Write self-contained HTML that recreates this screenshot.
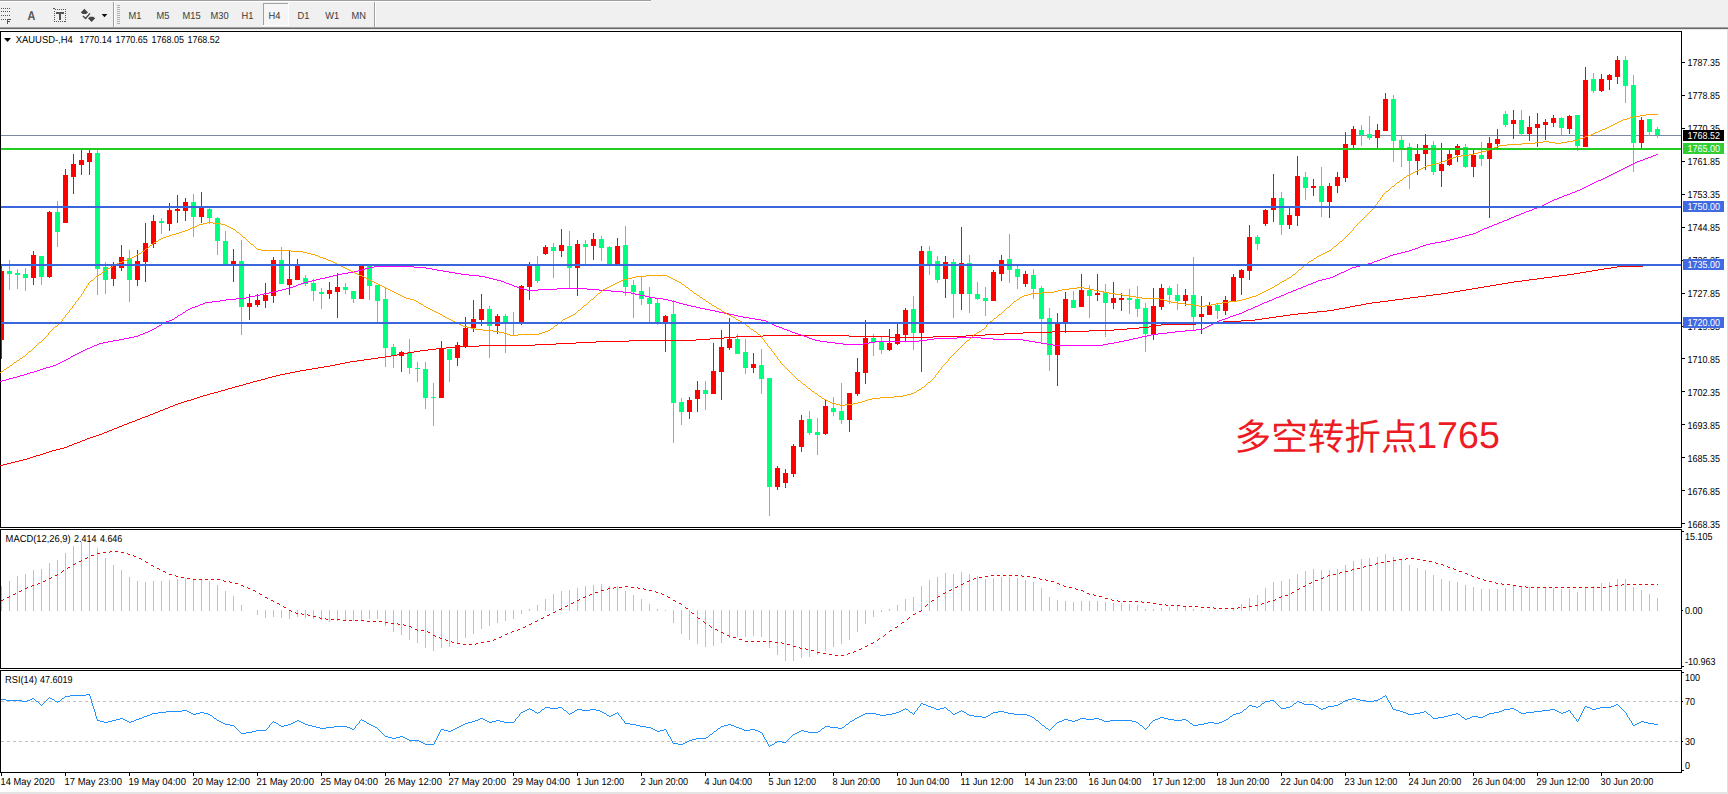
<!DOCTYPE html><html><head><meta charset="utf-8"><title>XAUUSD H4</title>
<style>html,body{margin:0;padding:0;background:#fff;width:1728px;height:794px;overflow:hidden}svg{display:block}text{font-family:"Liberation Sans","Noto Sans CJK SC",sans-serif;text-rendering:geometricPrecision;}</style></head><body>
<svg width="1728" height="794" viewBox="0 0 1728 794">
<rect x="0" y="0" width="1728" height="794" fill="#ffffff"/>
<g shape-rendering="crispEdges">
<rect x="0" y="0" width="1728" height="27" fill="#f0f0f0"/>
<rect x="0" y="0" width="651" height="1" fill="#a0a0a0"/>
<rect x="0" y="1" width="651" height="1" fill="#ffffff"/>
<rect x="0" y="27" width="1728" height="1" fill="#a0a0a0"/>
<rect x="0" y="28" width="1728" height="1" fill="#6a6a6a"/>
<rect x="0" y="29" width="1728" height="1" fill="#e8e8e8"/>
<rect x="113" y="2" width="1" height="25" fill="#a0a0a0"/><rect x="114" y="2" width="1" height="25" fill="#ffffff"/>
<rect x="374" y="2" width="1" height="25" fill="#a0a0a0"/><rect x="375" y="2" width="1" height="25" fill="#ffffff"/>
<rect x="117" y="5" width="3" height="1" fill="#b0b0b0"/>
<rect x="117" y="7" width="3" height="1" fill="#b0b0b0"/>
<rect x="117" y="9" width="3" height="1" fill="#b0b0b0"/>
<rect x="117" y="11" width="3" height="1" fill="#b0b0b0"/>
<rect x="117" y="13" width="3" height="1" fill="#b0b0b0"/>
<rect x="117" y="15" width="3" height="1" fill="#b0b0b0"/>
<rect x="117" y="17" width="3" height="1" fill="#b0b0b0"/>
<rect x="117" y="19" width="3" height="1" fill="#b0b0b0"/>
<rect x="117" y="21" width="3" height="1" fill="#b0b0b0"/>
<rect x="117" y="23" width="3" height="1" fill="#b0b0b0"/>
<rect x="263" y="3" width="26" height="23" fill="#f6f6f6"/>
<rect x="263" y="3" width="26" height="1" fill="#a0a0a0"/><rect x="263" y="3" width="1" height="23" fill="#a0a0a0"/>
<rect x="263" y="25" width="26" height="1" fill="#ffffff"/><rect x="288" y="3" width="1" height="23" fill="#ffffff"/>
</g>
<text transform="translate(128.5,19.2) scale(0.921,1)" style="font-size:10.1px;fill:#3a3a3a">M1</text>
<text transform="translate(156.5,19.2) scale(0.921,1)" style="font-size:10.1px;fill:#3a3a3a">M5</text>
<text transform="translate(182.5,19.2) scale(0.921,1)" style="font-size:10.1px;fill:#3a3a3a">M15</text>
<text transform="translate(210.5,19.2) scale(0.921,1)" style="font-size:10.1px;fill:#3a3a3a">M30</text>
<text transform="translate(241.5,19.2) scale(0.921,1)" style="font-size:10.1px;fill:#3a3a3a">H1</text>
<text transform="translate(268.5,19.2) scale(0.921,1)" style="font-size:10.1px;fill:#3a3a3a">H4</text>
<text transform="translate(297.5,19.2) scale(0.921,1)" style="font-size:10.1px;fill:#3a3a3a">D1</text>
<text transform="translate(325.3,19.2) scale(0.921,1)" style="font-size:10.1px;fill:#3a3a3a">W1</text>
<text transform="translate(351.5,19.2) scale(0.921,1)" style="font-size:10.1px;fill:#3a3a3a">MN</text>
<g shape-rendering="crispEdges" fill="#555">
<rect x="1" y="8" width="1" height="1"/>
<rect x="3" y="8" width="1" height="1"/>
<rect x="5" y="8" width="1" height="1"/>
<rect x="7" y="8" width="1" height="1"/>
<rect x="9" y="8" width="1" height="1"/>
<rect x="1" y="11" width="1" height="1"/>
<rect x="3" y="11" width="1" height="1"/>
<rect x="5" y="11" width="1" height="1"/>
<rect x="7" y="11" width="1" height="1"/>
<rect x="9" y="11" width="1" height="1"/>
<rect x="1" y="15" width="1" height="1"/>
<rect x="3" y="15" width="1" height="1"/>
<rect x="5" y="15" width="1" height="1"/>
<rect x="7" y="15" width="1" height="1"/>
<rect x="9" y="15" width="1" height="1"/>
<rect x="1" y="19" width="1" height="1"/>
<rect x="3" y="19" width="1" height="1"/>
<rect x="5" y="19" width="1" height="1"/>
<rect x="7" y="19" width="1" height="5"/><rect x="8" y="19" width="3" height="1"/><rect x="8" y="21" width="2" height="1"/>
</g>
<text transform="translate(27.5,20) scale(0.86,1)" x="0" y="0" style="font-size:12.6px;font-weight:bold;fill:#555">A</text>
<rect x="54.5" y="9.5" width="11" height="12" fill="none" stroke="#555" stroke-width="1" stroke-dasharray="1,1" shape-rendering="crispEdges"/>
<rect x="53" y="8" width="2" height="1" fill="#555" shape-rendering="crispEdges"/>
<g shape-rendering="crispEdges" fill="#555"><rect x="56" y="12" width="8" height="2"/><rect x="59" y="12" width="2" height="8"/></g>
<path d="M84.4 8.8 L88 12.6 L86 14 L82.8 14 L80.8 12.6 Z M91.6 22 L88 18.2 L90 16.8 L93.2 16.8 L95.2 18.2 Z" fill="#444"/><path d="M83 16 L85.6 18.4 L90 13.4" stroke="#444" stroke-width="1.4" fill="none"/>
<path d="M101.6 14 h5.8 l-2.9 3.3 z" fill="#111"/>
<g shape-rendering="crispEdges" fill="#000">
<rect x="0" y="31" width="1682" height="1"/>
<rect x="0" y="31" width="1" height="742"/>
<rect x="1681" y="31" width="1" height="742"/>
<rect x="0" y="527" width="1682" height="1"/>
<rect x="0" y="529" width="1682" height="1"/>
<rect x="0" y="668" width="1682" height="1"/>
<rect x="0" y="670" width="1682" height="1"/>
<rect x="0" y="772" width="1682" height="1"/>
</g>
<g shape-rendering="crispEdges" fill="#fff"><rect x="0" y="528" width="1728" height="1"/><rect x="0" y="669" width="1728" height="1"/></g>
<g shape-rendering="crispEdges"><rect x="1727" y="29" width="1" height="765" fill="#e0e0e0"/><rect x="0" y="792" width="1728" height="2" fill="#e4e4e4"/></g>
<g shape-rendering="crispEdges" fill="#000">
<rect x="1682" y="62" width="3" height="1"/>
<rect x="1682" y="95" width="3" height="1"/>
<rect x="1682" y="128" width="3" height="1"/>
<rect x="1682" y="161" width="3" height="1"/>
<rect x="1682" y="194" width="3" height="1"/>
<rect x="1682" y="227" width="3" height="1"/>
<rect x="1682" y="260" width="3" height="1"/>
<rect x="1682" y="293" width="3" height="1"/>
<rect x="1682" y="326" width="3" height="1"/>
<rect x="1682" y="358" width="3" height="1"/>
<rect x="1682" y="391" width="3" height="1"/>
<rect x="1682" y="424" width="3" height="1"/>
<rect x="1682" y="457" width="3" height="1"/>
<rect x="1682" y="490" width="3" height="1"/>
<rect x="1682" y="523" width="3" height="1"/>
</g>
<text transform="translate(1687.5,66.0) scale(0.889,1)" style="font-size:10.1px;fill:#000">1787.35</text>
<text transform="translate(1687.5,99.0) scale(0.889,1)" style="font-size:10.1px;fill:#000">1778.85</text>
<text transform="translate(1687.5,131.9) scale(0.889,1)" style="font-size:10.1px;fill:#000">1770.35</text>
<text transform="translate(1687.5,164.9) scale(0.889,1)" style="font-size:10.1px;fill:#000">1761.85</text>
<text transform="translate(1687.5,197.9) scale(0.889,1)" style="font-size:10.1px;fill:#000">1753.35</text>
<text transform="translate(1687.5,230.8) scale(0.889,1)" style="font-size:10.1px;fill:#000">1744.85</text>
<text transform="translate(1687.5,263.8) scale(0.889,1)" style="font-size:10.1px;fill:#000">1736.35</text>
<text transform="translate(1687.5,296.7) scale(0.889,1)" style="font-size:10.1px;fill:#000">1727.85</text>
<text transform="translate(1687.5,329.7) scale(0.889,1)" style="font-size:10.1px;fill:#000">1719.35</text>
<text transform="translate(1687.5,362.7) scale(0.889,1)" style="font-size:10.1px;fill:#000">1710.85</text>
<text transform="translate(1687.5,395.6) scale(0.889,1)" style="font-size:10.1px;fill:#000">1702.35</text>
<text transform="translate(1687.5,428.6) scale(0.889,1)" style="font-size:10.1px;fill:#000">1693.85</text>
<text transform="translate(1687.5,461.6) scale(0.889,1)" style="font-size:10.1px;fill:#000">1685.35</text>
<text transform="translate(1687.5,494.5) scale(0.889,1)" style="font-size:10.1px;fill:#000">1676.85</text>
<text transform="translate(1687.5,527.5) scale(0.889,1)" style="font-size:10.1px;fill:#000">1668.35</text>
<g shape-rendering="crispEdges">
<rect x="1" y="135" width="1680" height="1" fill="#7b8aa0"/>
</g>
<g shape-rendering="crispEdges">
<rect x="1" y="265" width="1" height="94" fill="#FF0000"/>
<rect x="1" y="271" width="3" height="69" fill="#FF0000"/>
<rect x="9" y="260" width="1" height="30" fill="#00FF7F"/>
<rect x="7" y="271" width="5" height="3" fill="#00FF7F"/>
<rect x="17" y="269" width="1" height="20" fill="#00FF7F"/>
<rect x="15" y="273" width="5" height="2" fill="#00FF7F"/>
<rect x="25" y="268" width="1" height="23" fill="#00FF7F"/>
<rect x="23" y="274" width="5" height="4" fill="#00FF7F"/>
<rect x="33" y="251" width="1" height="34" fill="#FF0000"/>
<rect x="31" y="255" width="5" height="23" fill="#FF0000"/>
<rect x="41" y="256" width="1" height="29" fill="#00FF7F"/>
<rect x="39" y="256" width="5" height="21" fill="#00FF7F"/>
<rect x="49" y="211" width="1" height="67" fill="#FF0000"/>
<rect x="47" y="212" width="5" height="65" fill="#FF0000"/>
<rect x="57" y="201" width="1" height="46" fill="#00FF7F"/>
<rect x="55" y="212" width="5" height="20" fill="#00FF7F"/>
<rect x="65" y="169" width="1" height="54" fill="#FF0000"/>
<rect x="63" y="175" width="5" height="48" fill="#FF0000"/>
<rect x="73" y="154" width="1" height="40" fill="#FF0000"/>
<rect x="71" y="164" width="5" height="13" fill="#FF0000"/>
<rect x="81" y="149" width="1" height="26" fill="#FF0000"/>
<rect x="79" y="160" width="5" height="5" fill="#FF0000"/>
<rect x="89" y="149" width="1" height="26" fill="#FF0000"/>
<rect x="87" y="153" width="5" height="9" fill="#FF0000"/>
<rect x="97" y="150" width="1" height="145" fill="#00FF7F"/>
<rect x="95" y="153" width="5" height="116" fill="#00FF7F"/>
<rect x="105" y="262" width="1" height="32" fill="#00FF7F"/>
<rect x="103" y="267" width="5" height="13" fill="#00FF7F"/>
<rect x="113" y="262" width="1" height="24" fill="#FF0000"/>
<rect x="111" y="266" width="5" height="13" fill="#FF0000"/>
<rect x="121" y="245" width="1" height="26" fill="#FF0000"/>
<rect x="119" y="257" width="5" height="11" fill="#FF0000"/>
<rect x="129" y="250" width="1" height="52" fill="#00FF7F"/>
<rect x="127" y="258" width="5" height="22" fill="#00FF7F"/>
<rect x="137" y="250" width="1" height="36" fill="#FF0000"/>
<rect x="135" y="261" width="5" height="19" fill="#FF0000"/>
<rect x="145" y="223" width="1" height="59" fill="#FF0000"/>
<rect x="143" y="243" width="5" height="19" fill="#FF0000"/>
<rect x="153" y="215" width="1" height="33" fill="#FF0000"/>
<rect x="151" y="221" width="5" height="23" fill="#FF0000"/>
<rect x="161" y="218" width="1" height="16" fill="#00FF7F"/>
<rect x="159" y="221" width="5" height="2" fill="#00FF7F"/>
<rect x="169" y="203" width="1" height="28" fill="#FF0000"/>
<rect x="167" y="210" width="5" height="14" fill="#FF0000"/>
<rect x="177" y="195" width="1" height="28" fill="#FF0000"/>
<rect x="175" y="209" width="5" height="2" fill="#FF0000"/>
<rect x="185" y="198" width="1" height="23" fill="#FF0000"/>
<rect x="183" y="202" width="5" height="9" fill="#FF0000"/>
<rect x="193" y="194" width="1" height="43" fill="#00FF7F"/>
<rect x="191" y="202" width="5" height="15" fill="#00FF7F"/>
<rect x="201" y="192" width="1" height="31" fill="#FF0000"/>
<rect x="199" y="208" width="5" height="9" fill="#FF0000"/>
<rect x="209" y="208" width="1" height="16" fill="#00FF7F"/>
<rect x="207" y="209" width="5" height="9" fill="#00FF7F"/>
<rect x="217" y="217" width="1" height="38" fill="#00FF7F"/>
<rect x="215" y="218" width="5" height="23" fill="#00FF7F"/>
<rect x="225" y="231" width="1" height="33" fill="#00FF7F"/>
<rect x="223" y="241" width="5" height="23" fill="#00FF7F"/>
<rect x="233" y="249" width="1" height="33" fill="#FF0000"/>
<rect x="231" y="261" width="5" height="3" fill="#FF0000"/>
<rect x="241" y="240" width="1" height="95" fill="#00FF7F"/>
<rect x="239" y="261" width="5" height="46" fill="#00FF7F"/>
<rect x="249" y="294" width="1" height="26" fill="#FF0000"/>
<rect x="247" y="303" width="5" height="4" fill="#FF0000"/>
<rect x="257" y="294" width="1" height="13" fill="#FF0000"/>
<rect x="255" y="300" width="5" height="5" fill="#FF0000"/>
<rect x="265" y="283" width="1" height="25" fill="#FF0000"/>
<rect x="263" y="295" width="5" height="6" fill="#FF0000"/>
<rect x="273" y="257" width="1" height="46" fill="#FF0000"/>
<rect x="271" y="260" width="5" height="36" fill="#FF0000"/>
<rect x="281" y="247" width="1" height="37" fill="#00FF7F"/>
<rect x="279" y="260" width="5" height="24" fill="#00FF7F"/>
<rect x="289" y="251" width="1" height="44" fill="#FF0000"/>
<rect x="287" y="279" width="5" height="6" fill="#FF0000"/>
<rect x="297" y="259" width="1" height="21" fill="#FF0000"/>
<rect x="295" y="266" width="5" height="14" fill="#FF0000"/>
<rect x="305" y="275" width="1" height="11" fill="#00FF7F"/>
<rect x="303" y="278" width="5" height="6" fill="#00FF7F"/>
<rect x="313" y="279" width="1" height="22" fill="#00FF7F"/>
<rect x="311" y="283" width="5" height="8" fill="#00FF7F"/>
<rect x="321" y="288" width="1" height="21" fill="#00FF7F"/>
<rect x="319" y="292" width="5" height="2" fill="#00FF7F"/>
<rect x="329" y="282" width="1" height="17" fill="#FF0000"/>
<rect x="327" y="290" width="5" height="4" fill="#FF0000"/>
<rect x="337" y="273" width="1" height="45" fill="#FF0000"/>
<rect x="335" y="287" width="5" height="5" fill="#FF0000"/>
<rect x="345" y="283" width="1" height="11" fill="#00FF7F"/>
<rect x="343" y="287" width="5" height="3" fill="#00FF7F"/>
<rect x="353" y="291" width="1" height="12" fill="#00FF7F"/>
<rect x="351" y="291" width="5" height="8" fill="#00FF7F"/>
<rect x="361" y="264" width="1" height="35" fill="#FF0000"/>
<rect x="359" y="265" width="5" height="34" fill="#FF0000"/>
<rect x="369" y="265" width="1" height="35" fill="#00FF7F"/>
<rect x="367" y="266" width="5" height="20" fill="#00FF7F"/>
<rect x="377" y="285" width="1" height="37" fill="#00FF7F"/>
<rect x="375" y="285" width="5" height="16" fill="#00FF7F"/>
<rect x="385" y="288" width="1" height="79" fill="#00FF7F"/>
<rect x="383" y="299" width="5" height="49" fill="#00FF7F"/>
<rect x="393" y="344" width="1" height="24" fill="#00FF7F"/>
<rect x="391" y="347" width="5" height="9" fill="#00FF7F"/>
<rect x="401" y="351" width="1" height="21" fill="#FF0000"/>
<rect x="399" y="352" width="5" height="4" fill="#FF0000"/>
<rect x="409" y="339" width="1" height="35" fill="#00FF7F"/>
<rect x="407" y="352" width="5" height="16" fill="#00FF7F"/>
<rect x="417" y="362" width="1" height="20" fill="#00FF7F"/>
<rect x="415" y="368" width="5" height="1" fill="#00FF7F"/>
<rect x="425" y="362" width="1" height="47" fill="#00FF7F"/>
<rect x="423" y="369" width="5" height="29" fill="#00FF7F"/>
<rect x="433" y="383" width="1" height="43" fill="#00FF7F"/>
<rect x="431" y="397" width="5" height="1" fill="#00FF7F"/>
<rect x="441" y="341" width="1" height="57" fill="#FF0000"/>
<rect x="439" y="348" width="5" height="50" fill="#FF0000"/>
<rect x="449" y="349" width="1" height="33" fill="#00FF7F"/>
<rect x="447" y="349" width="5" height="11" fill="#00FF7F"/>
<rect x="457" y="342" width="1" height="24" fill="#FF0000"/>
<rect x="455" y="345" width="5" height="13" fill="#FF0000"/>
<rect x="465" y="317" width="1" height="31" fill="#FF0000"/>
<rect x="463" y="328" width="5" height="18" fill="#FF0000"/>
<rect x="473" y="300" width="1" height="32" fill="#FF0000"/>
<rect x="471" y="319" width="5" height="9" fill="#FF0000"/>
<rect x="481" y="294" width="1" height="32" fill="#FF0000"/>
<rect x="479" y="309" width="5" height="11" fill="#FF0000"/>
<rect x="489" y="306" width="1" height="52" fill="#00FF7F"/>
<rect x="487" y="309" width="5" height="17" fill="#00FF7F"/>
<rect x="497" y="314" width="1" height="20" fill="#FF0000"/>
<rect x="495" y="316" width="5" height="10" fill="#FF0000"/>
<rect x="505" y="314" width="1" height="39" fill="#00FF7F"/>
<rect x="503" y="316" width="5" height="6" fill="#00FF7F"/>
<rect x="513" y="312" width="1" height="23" fill="#00FF7F"/>
<rect x="511" y="322" width="5" height="1" fill="#00FF7F"/>
<rect x="521" y="285" width="1" height="40" fill="#FF0000"/>
<rect x="519" y="286" width="5" height="36" fill="#FF0000"/>
<rect x="529" y="262" width="1" height="38" fill="#FF0000"/>
<rect x="527" y="265" width="5" height="22" fill="#FF0000"/>
<rect x="537" y="256" width="1" height="27" fill="#00FF7F"/>
<rect x="535" y="266" width="5" height="15" fill="#00FF7F"/>
<rect x="545" y="245" width="1" height="10" fill="#FF0000"/>
<rect x="543" y="247" width="5" height="7" fill="#FF0000"/>
<rect x="553" y="243" width="1" height="35" fill="#00FF7F"/>
<rect x="551" y="247" width="5" height="4" fill="#00FF7F"/>
<rect x="561" y="229" width="1" height="28" fill="#FF0000"/>
<rect x="559" y="245" width="5" height="6" fill="#FF0000"/>
<rect x="569" y="231" width="1" height="57" fill="#00FF7F"/>
<rect x="567" y="246" width="5" height="22" fill="#00FF7F"/>
<rect x="577" y="240" width="1" height="56" fill="#FF0000"/>
<rect x="575" y="244" width="5" height="24" fill="#FF0000"/>
<rect x="585" y="240" width="1" height="26" fill="#00FF7F"/>
<rect x="583" y="244" width="5" height="3" fill="#00FF7F"/>
<rect x="593" y="233" width="1" height="27" fill="#FF0000"/>
<rect x="591" y="239" width="5" height="7" fill="#FF0000"/>
<rect x="601" y="236" width="1" height="25" fill="#00FF7F"/>
<rect x="599" y="239" width="5" height="9" fill="#00FF7F"/>
<rect x="609" y="246" width="1" height="20" fill="#00FF7F"/>
<rect x="607" y="247" width="5" height="17" fill="#00FF7F"/>
<rect x="617" y="238" width="1" height="26" fill="#FF0000"/>
<rect x="615" y="246" width="5" height="18" fill="#FF0000"/>
<rect x="625" y="226" width="1" height="70" fill="#00FF7F"/>
<rect x="623" y="245" width="5" height="42" fill="#00FF7F"/>
<rect x="633" y="280" width="1" height="38" fill="#00FF7F"/>
<rect x="631" y="285" width="5" height="7" fill="#00FF7F"/>
<rect x="641" y="276" width="1" height="29" fill="#00FF7F"/>
<rect x="639" y="291" width="5" height="8" fill="#00FF7F"/>
<rect x="649" y="287" width="1" height="35" fill="#00FF7F"/>
<rect x="647" y="298" width="5" height="6" fill="#00FF7F"/>
<rect x="657" y="299" width="1" height="26" fill="#00FF7F"/>
<rect x="655" y="303" width="5" height="19" fill="#00FF7F"/>
<rect x="665" y="315" width="1" height="37" fill="#FF0000"/>
<rect x="663" y="316" width="5" height="6" fill="#FF0000"/>
<rect x="673" y="300" width="1" height="143" fill="#00FF7F"/>
<rect x="671" y="314" width="5" height="89" fill="#00FF7F"/>
<rect x="681" y="398" width="1" height="27" fill="#00FF7F"/>
<rect x="679" y="402" width="5" height="10" fill="#00FF7F"/>
<rect x="689" y="397" width="1" height="22" fill="#FF0000"/>
<rect x="687" y="400" width="5" height="12" fill="#FF0000"/>
<rect x="697" y="381" width="1" height="31" fill="#FF0000"/>
<rect x="695" y="390" width="5" height="9" fill="#FF0000"/>
<rect x="705" y="381" width="1" height="29" fill="#00FF7F"/>
<rect x="703" y="390" width="5" height="4" fill="#00FF7F"/>
<rect x="713" y="343" width="1" height="51" fill="#FF0000"/>
<rect x="711" y="371" width="5" height="23" fill="#FF0000"/>
<rect x="721" y="330" width="1" height="70" fill="#FF0000"/>
<rect x="719" y="347" width="5" height="25" fill="#FF0000"/>
<rect x="729" y="318" width="1" height="32" fill="#FF0000"/>
<rect x="727" y="339" width="5" height="9" fill="#FF0000"/>
<rect x="737" y="334" width="1" height="20" fill="#00FF7F"/>
<rect x="735" y="339" width="5" height="15" fill="#00FF7F"/>
<rect x="745" y="339" width="1" height="35" fill="#00FF7F"/>
<rect x="743" y="352" width="5" height="16" fill="#00FF7F"/>
<rect x="753" y="353" width="1" height="20" fill="#FF0000"/>
<rect x="751" y="364" width="5" height="4" fill="#FF0000"/>
<rect x="761" y="349" width="1" height="45" fill="#00FF7F"/>
<rect x="759" y="365" width="5" height="14" fill="#00FF7F"/>
<rect x="769" y="378" width="1" height="138" fill="#00FF7F"/>
<rect x="767" y="378" width="5" height="109" fill="#00FF7F"/>
<rect x="777" y="466" width="1" height="24" fill="#FF0000"/>
<rect x="775" y="468" width="5" height="19" fill="#FF0000"/>
<rect x="785" y="469" width="1" height="19" fill="#FF0000"/>
<rect x="783" y="473" width="5" height="10" fill="#FF0000"/>
<rect x="793" y="444" width="1" height="33" fill="#FF0000"/>
<rect x="791" y="446" width="5" height="28" fill="#FF0000"/>
<rect x="801" y="415" width="1" height="37" fill="#FF0000"/>
<rect x="799" y="420" width="5" height="27" fill="#FF0000"/>
<rect x="809" y="411" width="1" height="24" fill="#00FF7F"/>
<rect x="807" y="419" width="5" height="14" fill="#00FF7F"/>
<rect x="817" y="418" width="1" height="37" fill="#00FF7F"/>
<rect x="815" y="432" width="5" height="3" fill="#00FF7F"/>
<rect x="825" y="399" width="1" height="36" fill="#FF0000"/>
<rect x="823" y="406" width="5" height="28" fill="#FF0000"/>
<rect x="833" y="397" width="1" height="19" fill="#00FF7F"/>
<rect x="831" y="408" width="5" height="4" fill="#00FF7F"/>
<rect x="841" y="383" width="1" height="41" fill="#00FF7F"/>
<rect x="839" y="411" width="5" height="9" fill="#00FF7F"/>
<rect x="849" y="393" width="1" height="39" fill="#FF0000"/>
<rect x="847" y="393" width="5" height="27" fill="#FF0000"/>
<rect x="857" y="358" width="1" height="38" fill="#FF0000"/>
<rect x="855" y="372" width="5" height="22" fill="#FF0000"/>
<rect x="865" y="320" width="1" height="64" fill="#FF0000"/>
<rect x="863" y="338" width="5" height="35" fill="#FF0000"/>
<rect x="873" y="334" width="1" height="22" fill="#00FF7F"/>
<rect x="871" y="338" width="5" height="4" fill="#00FF7F"/>
<rect x="881" y="336" width="1" height="18" fill="#00FF7F"/>
<rect x="879" y="342" width="5" height="8" fill="#00FF7F"/>
<rect x="889" y="329" width="1" height="22" fill="#FF0000"/>
<rect x="887" y="343" width="5" height="7" fill="#FF0000"/>
<rect x="897" y="324" width="1" height="21" fill="#FF0000"/>
<rect x="895" y="334" width="5" height="10" fill="#FF0000"/>
<rect x="905" y="308" width="1" height="33" fill="#FF0000"/>
<rect x="903" y="310" width="5" height="25" fill="#FF0000"/>
<rect x="913" y="296" width="1" height="54" fill="#00FF7F"/>
<rect x="911" y="309" width="5" height="24" fill="#00FF7F"/>
<rect x="921" y="246" width="1" height="126" fill="#FF0000"/>
<rect x="919" y="251" width="5" height="82" fill="#FF0000"/>
<rect x="929" y="246" width="1" height="29" fill="#00FF7F"/>
<rect x="927" y="251" width="5" height="13" fill="#00FF7F"/>
<rect x="937" y="256" width="1" height="27" fill="#00FF7F"/>
<rect x="935" y="261" width="5" height="19" fill="#00FF7F"/>
<rect x="945" y="256" width="1" height="42" fill="#FF0000"/>
<rect x="943" y="262" width="5" height="17" fill="#FF0000"/>
<rect x="953" y="259" width="1" height="59" fill="#00FF7F"/>
<rect x="951" y="262" width="5" height="32" fill="#00FF7F"/>
<rect x="961" y="227" width="1" height="83" fill="#FF0000"/>
<rect x="959" y="263" width="5" height="31" fill="#FF0000"/>
<rect x="969" y="255" width="1" height="58" fill="#00FF7F"/>
<rect x="967" y="263" width="5" height="31" fill="#00FF7F"/>
<rect x="977" y="282" width="1" height="18" fill="#00FF7F"/>
<rect x="975" y="294" width="5" height="5" fill="#00FF7F"/>
<rect x="985" y="287" width="1" height="29" fill="#00FF7F"/>
<rect x="983" y="298" width="5" height="3" fill="#00FF7F"/>
<rect x="993" y="270" width="1" height="31" fill="#FF0000"/>
<rect x="991" y="272" width="5" height="29" fill="#FF0000"/>
<rect x="1001" y="255" width="1" height="26" fill="#FF0000"/>
<rect x="999" y="260" width="5" height="14" fill="#FF0000"/>
<rect x="1009" y="234" width="1" height="49" fill="#00FF7F"/>
<rect x="1007" y="259" width="5" height="11" fill="#00FF7F"/>
<rect x="1017" y="266" width="1" height="23" fill="#00FF7F"/>
<rect x="1015" y="269" width="5" height="8" fill="#00FF7F"/>
<rect x="1025" y="271" width="1" height="16" fill="#FF0000"/>
<rect x="1023" y="274" width="5" height="10" fill="#FF0000"/>
<rect x="1033" y="269" width="1" height="30" fill="#00FF7F"/>
<rect x="1031" y="275" width="5" height="14" fill="#00FF7F"/>
<rect x="1041" y="286" width="1" height="56" fill="#00FF7F"/>
<rect x="1039" y="288" width="5" height="31" fill="#00FF7F"/>
<rect x="1049" y="308" width="1" height="63" fill="#00FF7F"/>
<rect x="1047" y="318" width="5" height="37" fill="#00FF7F"/>
<rect x="1057" y="313" width="1" height="73" fill="#FF0000"/>
<rect x="1055" y="323" width="5" height="32" fill="#FF0000"/>
<rect x="1065" y="292" width="1" height="41" fill="#FF0000"/>
<rect x="1063" y="299" width="5" height="23" fill="#FF0000"/>
<rect x="1073" y="291" width="1" height="17" fill="#00FF7F"/>
<rect x="1071" y="300" width="5" height="8" fill="#00FF7F"/>
<rect x="1081" y="274" width="1" height="33" fill="#FF0000"/>
<rect x="1079" y="290" width="5" height="17" fill="#FF0000"/>
<rect x="1089" y="285" width="1" height="33" fill="#00FF7F"/>
<rect x="1087" y="290" width="5" height="6" fill="#00FF7F"/>
<rect x="1097" y="274" width="1" height="27" fill="#FF0000"/>
<rect x="1095" y="293" width="5" height="2" fill="#FF0000"/>
<rect x="1105" y="284" width="1" height="53" fill="#00FF7F"/>
<rect x="1103" y="292" width="5" height="11" fill="#00FF7F"/>
<rect x="1113" y="282" width="1" height="27" fill="#FF0000"/>
<rect x="1111" y="298" width="5" height="5" fill="#FF0000"/>
<rect x="1121" y="293" width="1" height="18" fill="#FF0000"/>
<rect x="1119" y="298" width="5" height="2" fill="#FF0000"/>
<rect x="1129" y="289" width="1" height="25" fill="#00FF7F"/>
<rect x="1127" y="298" width="5" height="2" fill="#00FF7F"/>
<rect x="1137" y="286" width="1" height="31" fill="#00FF7F"/>
<rect x="1135" y="299" width="5" height="10" fill="#00FF7F"/>
<rect x="1145" y="303" width="1" height="49" fill="#00FF7F"/>
<rect x="1143" y="308" width="5" height="26" fill="#00FF7F"/>
<rect x="1153" y="288" width="1" height="52" fill="#FF0000"/>
<rect x="1151" y="306" width="5" height="28" fill="#FF0000"/>
<rect x="1161" y="284" width="1" height="26" fill="#FF0000"/>
<rect x="1159" y="288" width="5" height="19" fill="#FF0000"/>
<rect x="1169" y="286" width="1" height="18" fill="#00FF7F"/>
<rect x="1167" y="288" width="5" height="7" fill="#00FF7F"/>
<rect x="1177" y="284" width="1" height="26" fill="#00FF7F"/>
<rect x="1175" y="295" width="5" height="6" fill="#00FF7F"/>
<rect x="1185" y="289" width="1" height="17" fill="#FF0000"/>
<rect x="1183" y="295" width="5" height="6" fill="#FF0000"/>
<rect x="1193" y="257" width="1" height="73" fill="#00FF7F"/>
<rect x="1191" y="295" width="5" height="22" fill="#00FF7F"/>
<rect x="1201" y="296" width="1" height="38" fill="#FF0000"/>
<rect x="1199" y="314" width="5" height="3" fill="#FF0000"/>
<rect x="1209" y="302" width="1" height="13" fill="#FF0000"/>
<rect x="1207" y="306" width="5" height="9" fill="#FF0000"/>
<rect x="1217" y="304" width="1" height="15" fill="#00FF7F"/>
<rect x="1215" y="305" width="5" height="6" fill="#00FF7F"/>
<rect x="1225" y="296" width="1" height="19" fill="#FF0000"/>
<rect x="1223" y="300" width="5" height="11" fill="#FF0000"/>
<rect x="1233" y="274" width="1" height="28" fill="#FF0000"/>
<rect x="1231" y="277" width="5" height="25" fill="#FF0000"/>
<rect x="1241" y="269" width="1" height="26" fill="#FF0000"/>
<rect x="1239" y="270" width="5" height="8" fill="#FF0000"/>
<rect x="1249" y="225" width="1" height="55" fill="#FF0000"/>
<rect x="1247" y="237" width="5" height="34" fill="#FF0000"/>
<rect x="1257" y="235" width="1" height="15" fill="#00FF7F"/>
<rect x="1255" y="237" width="5" height="7" fill="#00FF7F"/>
<rect x="1265" y="209" width="1" height="17" fill="#FF0000"/>
<rect x="1263" y="210" width="5" height="14" fill="#FF0000"/>
<rect x="1273" y="174" width="1" height="48" fill="#FF0000"/>
<rect x="1271" y="198" width="5" height="12" fill="#FF0000"/>
<rect x="1281" y="192" width="1" height="43" fill="#00FF7F"/>
<rect x="1279" y="198" width="5" height="27" fill="#00FF7F"/>
<rect x="1289" y="208" width="1" height="21" fill="#FF0000"/>
<rect x="1287" y="215" width="5" height="10" fill="#FF0000"/>
<rect x="1297" y="156" width="1" height="70" fill="#FF0000"/>
<rect x="1295" y="176" width="5" height="40" fill="#FF0000"/>
<rect x="1305" y="172" width="1" height="28" fill="#00FF7F"/>
<rect x="1303" y="177" width="5" height="11" fill="#00FF7F"/>
<rect x="1313" y="179" width="1" height="17" fill="#FF0000"/>
<rect x="1311" y="186" width="5" height="2" fill="#FF0000"/>
<rect x="1321" y="167" width="1" height="50" fill="#00FF7F"/>
<rect x="1319" y="186" width="5" height="16" fill="#00FF7F"/>
<rect x="1329" y="183" width="1" height="35" fill="#FF0000"/>
<rect x="1327" y="186" width="5" height="16" fill="#FF0000"/>
<rect x="1337" y="172" width="1" height="21" fill="#FF0000"/>
<rect x="1335" y="177" width="5" height="9" fill="#FF0000"/>
<rect x="1345" y="132" width="1" height="50" fill="#FF0000"/>
<rect x="1343" y="144" width="5" height="34" fill="#FF0000"/>
<rect x="1353" y="126" width="1" height="22" fill="#FF0000"/>
<rect x="1351" y="129" width="5" height="16" fill="#FF0000"/>
<rect x="1361" y="125" width="1" height="21" fill="#00FF7F"/>
<rect x="1359" y="130" width="5" height="5" fill="#00FF7F"/>
<rect x="1369" y="116" width="1" height="24" fill="#00FF7F"/>
<rect x="1367" y="134" width="5" height="4" fill="#00FF7F"/>
<rect x="1377" y="124" width="1" height="24" fill="#FF0000"/>
<rect x="1375" y="130" width="5" height="8" fill="#FF0000"/>
<rect x="1385" y="93" width="1" height="38" fill="#FF0000"/>
<rect x="1383" y="99" width="5" height="32" fill="#FF0000"/>
<rect x="1393" y="95" width="1" height="67" fill="#00FF7F"/>
<rect x="1391" y="99" width="5" height="42" fill="#00FF7F"/>
<rect x="1401" y="136" width="1" height="31" fill="#00FF7F"/>
<rect x="1399" y="140" width="5" height="8" fill="#00FF7F"/>
<rect x="1409" y="143" width="1" height="46" fill="#00FF7F"/>
<rect x="1407" y="147" width="5" height="14" fill="#00FF7F"/>
<rect x="1417" y="144" width="1" height="31" fill="#FF0000"/>
<rect x="1415" y="154" width="5" height="7" fill="#FF0000"/>
<rect x="1425" y="134" width="1" height="36" fill="#FF0000"/>
<rect x="1423" y="145" width="5" height="9" fill="#FF0000"/>
<rect x="1433" y="141" width="1" height="34" fill="#00FF7F"/>
<rect x="1431" y="145" width="5" height="27" fill="#00FF7F"/>
<rect x="1441" y="143" width="1" height="44" fill="#FF0000"/>
<rect x="1439" y="164" width="5" height="7" fill="#FF0000"/>
<rect x="1449" y="150" width="1" height="16" fill="#FF0000"/>
<rect x="1447" y="154" width="5" height="11" fill="#FF0000"/>
<rect x="1457" y="144" width="1" height="18" fill="#FF0000"/>
<rect x="1455" y="146" width="5" height="9" fill="#FF0000"/>
<rect x="1465" y="144" width="1" height="24" fill="#00FF7F"/>
<rect x="1463" y="147" width="5" height="20" fill="#00FF7F"/>
<rect x="1473" y="150" width="1" height="27" fill="#FF0000"/>
<rect x="1471" y="155" width="5" height="12" fill="#FF0000"/>
<rect x="1481" y="142" width="1" height="24" fill="#00FF7F"/>
<rect x="1479" y="155" width="5" height="4" fill="#00FF7F"/>
<rect x="1489" y="137" width="1" height="81" fill="#FF0000"/>
<rect x="1487" y="143" width="5" height="16" fill="#FF0000"/>
<rect x="1497" y="129" width="1" height="19" fill="#FF0000"/>
<rect x="1495" y="139" width="5" height="5" fill="#FF0000"/>
<rect x="1505" y="111" width="1" height="16" fill="#00FF7F"/>
<rect x="1503" y="114" width="5" height="11" fill="#00FF7F"/>
<rect x="1513" y="110" width="1" height="29" fill="#FF0000"/>
<rect x="1511" y="120" width="5" height="4" fill="#FF0000"/>
<rect x="1521" y="110" width="1" height="26" fill="#00FF7F"/>
<rect x="1519" y="120" width="5" height="14" fill="#00FF7F"/>
<rect x="1529" y="116" width="1" height="25" fill="#FF0000"/>
<rect x="1527" y="127" width="5" height="7" fill="#FF0000"/>
<rect x="1537" y="113" width="1" height="34" fill="#FF0000"/>
<rect x="1535" y="124" width="5" height="4" fill="#FF0000"/>
<rect x="1545" y="119" width="1" height="21" fill="#FF0000"/>
<rect x="1543" y="122" width="5" height="3" fill="#FF0000"/>
<rect x="1553" y="115" width="1" height="12" fill="#FF0000"/>
<rect x="1551" y="118" width="5" height="5" fill="#FF0000"/>
<rect x="1561" y="117" width="1" height="18" fill="#00FF7F"/>
<rect x="1559" y="118" width="5" height="10" fill="#00FF7F"/>
<rect x="1569" y="115" width="1" height="19" fill="#FF0000"/>
<rect x="1567" y="116" width="5" height="13" fill="#FF0000"/>
<rect x="1577" y="115" width="1" height="36" fill="#00FF7F"/>
<rect x="1575" y="115" width="5" height="31" fill="#00FF7F"/>
<rect x="1585" y="67" width="1" height="80" fill="#FF0000"/>
<rect x="1583" y="80" width="5" height="67" fill="#FF0000"/>
<rect x="1593" y="73" width="1" height="20" fill="#00FF7F"/>
<rect x="1591" y="79" width="5" height="12" fill="#00FF7F"/>
<rect x="1601" y="74" width="1" height="18" fill="#FF0000"/>
<rect x="1599" y="79" width="5" height="12" fill="#FF0000"/>
<rect x="1609" y="74" width="1" height="16" fill="#FF0000"/>
<rect x="1607" y="75" width="5" height="5" fill="#FF0000"/>
<rect x="1617" y="56" width="1" height="28" fill="#FF0000"/>
<rect x="1615" y="60" width="5" height="17" fill="#FF0000"/>
<rect x="1625" y="56" width="1" height="47" fill="#00FF7F"/>
<rect x="1623" y="60" width="5" height="26" fill="#00FF7F"/>
<rect x="1633" y="75" width="1" height="97" fill="#00FF7F"/>
<rect x="1631" y="85" width="5" height="58" fill="#00FF7F"/>
<rect x="1641" y="117" width="1" height="31" fill="#FF0000"/>
<rect x="1639" y="120" width="5" height="23" fill="#FF0000"/>
<rect x="1649" y="119" width="1" height="17" fill="#00FF7F"/>
<rect x="1647" y="119" width="5" height="13" fill="#00FF7F"/>
<rect x="1657" y="127" width="1" height="11" fill="#00FF7F"/>
<rect x="1655" y="129" width="5" height="6" fill="#00FF7F"/>
</g>
<path d="M1276 316.5h7M7 463.5h4M985 334.5h19M197 397.5h3M1496 284.5h6M261 379.5h4M629 340.5h67M1345 307.5h5M1223 321.5h18M1598 269.5h6M724 337.5h12M889 337.5h44M1161 324.5h35M391 355.5h6M1522 280.5h7M1372 302.5h8M1023 332.5h29M250 382.5h3M324 366.5h6M1298 313.5h10M459 346.5h20M184 401.5h3M736 336.5h27M849 336.5h40M933 336.5h33M763 335.5h86M966 335.5h19M1290 314.5h8M535 344.5h21M276 375.5h4M576 342.5h20M1441 293.5h7M479 345.5h56M112 429.5h2M414 351.5h6M596 341.5h33M300 370.5h6M80 441.5h2M1426 295.5h7M1617 266.5h26M265 378.5h3M170 406.5h3M107 431.5h2M408 352.5h6M1537 278.5h7M1380 301.5h8M228 388.5h4M428 349.5h8M64 447.5h3M312 368.5h6M350 361.5h7M239 385.5h4M1544 277.5h8M52 450.5h4M340 363.5h5M1466 289.5h6M1317 311.5h10M556 343.5h20M129 422.5h3M436 348.5h10M99 434.5h3M364 359.5h7M67 446.5h2M160 410.5h3M1139 327.5h10M1089 330.5h25M1559 275.5h8M1478 287.5h6M1210 322.5h13M218 391.5h3M1262 318.5h7M87 438.5h3M1586 271.5h6M207 394.5h3M378 357.5h7M696 339.5h14M1502 283.5h6M43 453.5h3M1052 331.5h37M163 409.5h2M191 399.5h3M33 456.5h3M1643 265.5h10M1410 297.5h8M385 356.5h6M122 425.5h2M1366 303.5h6M178 403.5h3M148 415.5h2M117 427.5h2M1580 272.5h6M1114 329.5h13M15 461.5h4M74 443.5h3M403 353.5h5M295 371.5h5M290 372.5h5M1004 333.5h19M181 402.5h3M150 414.5h3M710 338.5h14M1433 294.5h8M1361 304.5h5M235 386.5h4M140 418.5h2M1529 279.5h8M1454 291.5h6M0 465.5h3M1127 328.5h12M1472 288.5h6M1196 323.5h14M1308 312.5h9M200 396.5h3M1388 300.5h7M225 389.5h3M158 411.5h2M1490 285.5h6M127 423.5h2M214 392.5h4M1241 320.5h14M203 395.5h4M85 439.5h2M1574 273.5h6M446 347.5h13M1155 325.5h6M3 464.5h4M1339 308.5h6M280 374.5h5M30 457.5h3M1334 309.5h5M1508 282.5h6M1611 267.5h6M1418 296.5h8M285 373.5h5M246 383.5h4M420 350.5h8M1355 305.5h6M1653 264.5h5M109 430.5h3M335 364.5h5M104 432.5h3M60 448.5h4M1552 276.5h7M1395 299.5h8M137 419.5h3M40 454.5h3M96 435.5h3M1255 319.5h7M1514 281.5h8M371 358.5h7M1269 317.5h7M119 426.5h3M272 376.5h4M145 416.5h3M114 428.5h3M19 460.5h4M306 369.5h6M77 442.5h3M72 444.5h2M397 354.5h6M318 367.5h6M1460 290.5h6M357 360.5h7M1448 292.5h6M1403 298.5h7M210 393.5h4M221 390.5h4M1484 286.5h6M1327 310.5h7M23 459.5h4M82 440.5h3M1567 274.5h7M187 400.5h4M268 377.5h4M1350 306.5h5M1604 268.5h7M1283 315.5h7M345 362.5h5M232 387.5h3M330 365.5h5M132 421.5h3M257 380.5h4M165 408.5h3M90 437.5h3M36 455.5h4M1149 326.5h6M124 424.5h3M93 436.5h3M27 458.5h3M1592 270.5h6M69 445.5h3M56 449.5h4M175 404.5h3M135 420.5h2M49 451.5h3M168 407.5h2M153 413.5h2M243 384.5h3M11 462.5h4M155 412.5h3M253 381.5h4M46 452.5h3M173 405.5h2M142 417.5h3M102 433.5h2M194 398.5h3" fill="none" stroke="#FF0000" stroke-width="1" shape-rendering="crispEdges"/>
<path d="M282 289.5h4M524 289.5h3M538 289.5h19M587 289.5h12M1296 289.5h2M192 307.5h3M696 307.5h4M1253 307.5h2M66 359.5h2M200 304.5h3M683 304.5h4M1260 304.5h2M119 339.5h5M812 339.5h3M927 339.5h7M993 339.5h30M1129 339.5h4M152 329.5h2M784 329.5h3M1196 329.5h7M348 272.5h6M449 272.5h6M1341 272.5h3M34 371.5h3M250 296.5h5M645 296.5h4M1279 296.5h2M738 316.5h5M1230 316.5h3M124 338.5h5M809 338.5h3M934 338.5h23M981 338.5h12M1133 338.5h5M108 341.5h5M820 341.5h7M875 341.5h44M1029 341.5h6M1119 341.5h5M1441 241.5h5M1532 209.5h2M154 328.5h2M782 328.5h2M1203 328.5h2M749 318.5h6M1225 318.5h3M312 280.5h4M497 280.5h4M1318 280.5h4M269 292.5h4M623 292.5h8M1288 292.5h3M1562 196.5h2M103 342.5h5M827 342.5h8M869 342.5h6M1035 342.5h6M1114 342.5h5M140 334.5h3M798 334.5h3M1151 334.5h7M203 303.5h2M679 303.5h4M1262 303.5h2M178 315.5h2M734 315.5h4M1233 315.5h3M1430 243.5h5M1469 234.5h4M94 345.5h3M1053 345.5h50M85 349.5h2M374 266.5h40M1356 266.5h4M148 331.5h2M790 331.5h2M1175 331.5h10M129 337.5h5M807 337.5h2M957 337.5h24M1138 337.5h4M1582 188.5h2M286 288.5h4M520 288.5h4M557 288.5h30M1298 288.5h3M1552 200.5h2M145 332.5h3M792 332.5h3M1167 332.5h8M97 344.5h2M843 344.5h20M1047 344.5h6M1103 344.5h5M190 308.5h2M700 308.5h5M1251 308.5h2M1458 237.5h4M724 313.5h5M1239 313.5h3M1489 226.5h3M264 293.5h5M631 293.5h4M1286 293.5h2M1420 246.5h3M290 287.5h3M517 287.5h3M1301 287.5h2M68 358.5h2M1446 240.5h4M198 305.5h2M687 305.5h4M1258 305.5h2M0 381.5h2M1651 156.5h2M278 290.5h4M527 290.5h11M599 290.5h12M1293 290.5h3M24 374.5h3M1584 187.5h2M188 309.5h2M705 309.5h5M1248 309.5h3M166 321.5h3M766 321.5h2M1217 321.5h2M1492 225.5h2M1397 253.5h4M13 377.5h4M186 310.5h2M710 310.5h5M1246 310.5h2M308 281.5h4M501 281.5h3M1316 281.5h2M369 267.5h5M414 267.5h12M1352 267.5h4M246 297.5h4M649 297.5h6M1276 297.5h3M113 340.5h6M815 340.5h5M919 340.5h8M1023 340.5h6M1124 340.5h5M1570 193.5h2M2 380.5h4M183 312.5h2M719 312.5h5M1242 312.5h2M1478 231.5h2M1619 170.5h2M60 362.5h2M301 283.5h3M506 283.5h3M1311 283.5h2M56 364.5h2M180 314.5h2M729 314.5h5M1236 314.5h3M143 333.5h2M795 333.5h3M1158 333.5h9M1637 161.5h3M220 300.5h6M668 300.5h4M1269 300.5h3M779 327.5h3M1205 327.5h2M1572 192.5h3M362 269.5h3M432 269.5h5M1348 269.5h2M1388 256.5h2M1542 205.5h2M316 279.5h4M493 279.5h4M1322 279.5h4M1480 230.5h2M175 317.5h2M743 317.5h6M1228 317.5h2M325 277.5h4M485 277.5h4M1330 277.5h3M1592 183.5h2M1611 174.5h2M337 274.5h5M461 274.5h8M1337 274.5h2M365 268.5h4M426 268.5h6M1350 268.5h2M46 367.5h4M226 299.5h10M663 299.5h5M1272 299.5h2M134 336.5h4M804 336.5h3M1142 336.5h5M1656 154.5h2M1502 221.5h2M1374 261.5h3M236 298.5h10M655 298.5h8M1274 298.5h2M1364 264.5h4M329 276.5h4M479 276.5h6M1333 276.5h2M169 320.5h3M761 320.5h5M1219 320.5h3M273 291.5h5M611 291.5h12M1291 291.5h2M1548 202.5h2M1487 227.5h2M342 273.5h6M455 273.5h6M1339 273.5h2M1648 157.5h3M1405 251.5h4M212 301.5h8M672 301.5h4M1267 301.5h2M172 319.5h2M755 319.5h6M1222 319.5h3M1519 214.5h2M1550 201.5h2M1393 254.5h4M157 326.5h2M776 326.5h3M1207 326.5h2M1601 179.5h2M255 295.5h5M640 295.5h5M1281 295.5h3M354 271.5h4M443 271.5h6M1344 271.5h2M1401 252.5h4M205 302.5h7M676 302.5h3M1264 302.5h3M75 354.5h2M150 330.5h2M787 330.5h3M1185 330.5h11M358 270.5h4M437 270.5h6M1346 270.5h2M1385 257.5h3M99 343.5h4M835 343.5h8M863 343.5h6M1041 343.5h6M1108 343.5h6M159 325.5h2M774 325.5h2M1209 325.5h2M1476 232.5h2M1557 198.5h2M1588 185.5h2M1640 160.5h3M333 275.5h4M469 275.5h10M1335 275.5h2M1607 176.5h2M1454 238.5h4M1627 166.5h2M1559 197.5h3M1529 210.5h3M1465 235.5h4M1609 175.5h2M296 285.5h2M512 285.5h2M1306 285.5h2M260 294.5h4M635 294.5h5M1284 294.5h2M1418 247.5h2M37 370.5h3M320 278.5h5M489 278.5h4M1326 278.5h4M20 375.5h4M1521 213.5h3M9 378.5h4M164 322.5h2M768 322.5h2M1215 322.5h2M715 311.5h4M1244 311.5h2M162 323.5h2M770 323.5h2M1213 323.5h2M1537 207.5h2M1409 250.5h3M1621 169.5h2M298 284.5h3M509 284.5h3M1308 284.5h3M1617 171.5h2M1635 162.5h2M195 306.5h3M691 306.5h5M1255 306.5h3M40 369.5h3M1507 219.5h2M1539 206.5h3M138 335.5h2M801 335.5h3M1147 335.5h4M1426 244.5h4M43 368.5h3M30 372.5h4M1372 262.5h2M83 350.5h2M1499 222.5h3M1494 224.5h3M1360 265.5h4M1577 190.5h3M1629 165.5h2M1516 215.5h3M1598 180.5h3M58 363.5h2M53 365.5h3M77 353.5h2M73 355.5h2M772 324.5h2M1211 324.5h2M92 346.5h2M1509 218.5h2M1382 258.5h3M1590 184.5h2M1586 186.5h2M1462 236.5h3M293 286.5h3M514 286.5h3M1303 286.5h3M1450 239.5h4M1435 242.5h6M1526 211.5h3M17 376.5h3M62 361.5h2M1645 158.5h3M81 351.5h2M1580 189.5h2M1564 195.5h3M1567 194.5h3M1504 220.5h3M304 282.5h4M504 282.5h2M1313 282.5h3M1368 263.5h4M1625 167.5h2M1497 223.5h2M1415 248.5h3M6 379.5h3M1482 229.5h2M64 360.5h2M1643 159.5h2M1514 216.5h2M1546 203.5h2M1484 228.5h3M1596 181.5h2M1615 172.5h2M50 366.5h3M1380 259.5h2M90 347.5h2M1603 178.5h2M1524 212.5h2M1605 177.5h2M1575 191.5h2M1623 168.5h2M1653 155.5h3M1412 249.5h3M79 352.5h2M1390 255.5h3M71 356.5h2M1631 164.5h2M1534 208.5h3M1473 233.5h3M87 348.5h3M1554 199.5h3M1423 245.5h3M1511 217.5h3M1613 173.5h2M1633 163.5h2M27 373.5h3M1544 204.5h2M1594 182.5h2M1377 260.5h3M174.5 318v1M161.5 324v1M70.5 357v1M177.5 316v1M156.5 327v1M185.5 311v1M182.5 313v1" fill="none" stroke="#FF00FF" stroke-width="1" shape-rendering="crispEdges"/>
<path d="M359 275.5h3M646 275.5h21M416 301.5h2M706 301.5h2M1014 301.5h2M1167 301.5h4M1229 301.5h8M836 404.5h4M845 404.5h8M353 272.5h2M108 268.5h2M345 268.5h2M398 294.5h2M1028 294.5h3M1115 294.5h7M1258 294.5h2M179 232.5h3M237 232.5h2M584 305.5h2M712 305.5h2M1193 305.5h6M1205 305.5h6M199 224.5h4M221 224.5h4M390 290.5h2M690 290.5h2M1058 290.5h4M1094 290.5h5M1266 290.5h2M419 303.5h2M709 303.5h2M1177 303.5h8M1216 303.5h6M261 250.5h30M1329 250.5h2M451 320.5h2M738 320.5h2M504 333.5h3M539 333.5h3M406 298.5h4M1142 298.5h18M1246 298.5h3M424 306.5h2M714 306.5h2M1199 306.5h6M55 326.5h2M463 326.5h4M747 326.5h2M507 334.5h3M518 334.5h21M758 334.5h2M974 334.5h2M483 330.5h10M548 330.5h2M1522 143.5h13M1555 143.5h6M384 287.5h2M607 287.5h2M686 287.5h2M1077 287.5h7M1272 287.5h2M812 391.5h2M414 300.5h2M1164 300.5h3M1237 300.5h5M142 251.5h2M291 251.5h12M1327 251.5h2M396 293.5h2M598 293.5h2M694 293.5h2M1031 293.5h11M1109 293.5h6M1260 293.5h2M1507 144.5h15M185 230.5h3M1478 152.5h4M510 335.5h8M1171 302.5h6M1222 302.5h7M1617 122.5h2M110 267.5h2M343 267.5h2M461 325.5h2M555 325.5h2M436 312.5h2M724 312.5h2M430 309.5h2M719 309.5h2M1442 161.5h3M376 283.5h2M615 283.5h2M1588 135.5h3M404 297.5h2M700 297.5h2M1020 297.5h2M1136 297.5h6M1249 297.5h3M119 262.5h3M333 262.5h2M1461 155.5h8M967 340.5h2M445 317.5h2M567 317.5h2M733 317.5h2M447 318.5h2M565 318.5h2M994 318.5h2M440 314.5h2M573 314.5h2M727 314.5h2M999 314.5h2M455 322.5h2M559 322.5h2M17 360.5h2M188 229.5h2M233 229.5h2M96 276.5h2M362 276.5h2M636 276.5h10M667 276.5h2M903 395.5h4M122 261.5h2M331 261.5h2M1309 261.5h2M368 279.5h2M623 279.5h4M673 279.5h2M355 273.5h2M176 233.5h3M400 295.5h2M697 295.5h2M1024 295.5h4M1122 295.5h7M1256 295.5h2M1543 141.5h6M1567 141.5h6M203 223.5h4M213 223.5h8M1573 140.5h4M1634 116.5h6M166 236.5h3M1605 128.5h2M822 398.5h2M872 398.5h8M467 327.5h4M364 277.5h2M632 277.5h4M669 277.5h2M1289 277.5h2M434 311.5h2M722 311.5h2M124 260.5h3M328 260.5h3M1311 260.5h2M457 323.5h2M743 323.5h2M150 245.5h2M1623 119.5h4M803 384.5h2M1421 168.5h2M815 393.5h2M911 393.5h3M394 292.5h2M1042 292.5h12M1104 292.5h5M1262 292.5h2M426 307.5h2M1007 307.5h2M402 296.5h2M1022 296.5h2M1129 296.5h7M1252 296.5h4M1417 170.5h2M471 328.5h4M551 328.5h2M808 388.5h2M146 248.5h2M1499 145.5h8M880 397.5h14M315 255.5h3M1319 255.5h2M388 289.5h2M603 289.5h2M1062 289.5h7M1089 289.5h5M1268 289.5h2M195 226.5h2M227 226.5h2M132 257.5h2M320 257.5h3M378 284.5h2M613 284.5h2M682 284.5h2M1277 284.5h2M449 319.5h2M563 319.5h2M736 319.5h2M1627 118.5h3M410 299.5h4M591 299.5h2M703 299.5h2M1017 299.5h2M1160 299.5h4M1242 299.5h4M1489 149.5h2M798 380.5h2M453 321.5h2M740 321.5h2M990 321.5h2M828 401.5h2M862 401.5h3M130 258.5h2M323 258.5h3M1314 258.5h2M1450 158.5h3M917 390.5h2M928 382.5h2M1593 133.5h2M154 242.5h2M207 222.5h6M115 264.5h2M337 264.5h2M1305 264.5h2M4 369.5h2M106 269.5h2M347 269.5h2M1299 269.5h2M1640 115.5h6M571 315.5h2M729 315.5h2M443 316.5h2M569 316.5h2M731 316.5h2M832 403.5h4M853 403.5h5M824 399.5h2M868 399.5h4M1453 157.5h3M438 313.5h2M156 241.5h2M1340 241.5h2M374 282.5h2M617 282.5h2M679 282.5h2M1280 282.5h2M103 271.5h2M351 271.5h2M386 288.5h2M605 288.5h2M1069 288.5h8M1084 288.5h5M1270 288.5h2M20 358.5h2M380 285.5h2M611 285.5h2M1275 285.5h2M1431 164.5h4M303 252.5h4M1325 252.5h2M137 254.5h2M311 254.5h4M1321 254.5h2M819 396.5h2M894 396.5h9M10 365.5h2M421 304.5h2M1185 304.5h8M1211 304.5h5M91 280.5h2M370 280.5h2M621 280.5h2M675 280.5h2M1284 280.5h2M432 310.5h2M578 310.5h2M1535 142.5h8M1549 142.5h6M1561 142.5h6M139 253.5h2M307 253.5h4M1323 253.5h2M392 291.5h2M1054 291.5h4M1099 291.5h5M1264 291.5h2M251 244.5h2M1646 114.5h12M117 263.5h2M335 263.5h2M161 238.5h2M163 237.5h3M243 237.5h2M197 225.5h2M225 225.5h2M134 256.5h2M318 256.5h2M1317 256.5h2M1334 246.5h2M159 239.5h2M382 286.5h2M609 286.5h2M459 324.5h2M182 231.5h3M127 259.5h3M326 259.5h2M475 329.5h8M751 329.5h2M982 329.5h2M1474 153.5h4M1435 163.5h4M428 308.5h2M717 308.5h2M169 235.5h3M1595 132.5h3M366 278.5h2M627 278.5h5M671 278.5h2M1287 278.5h2M1615 123.5h2M1439 162.5h3M1585 136.5h3M840 405.5h5M172 234.5h4M349 270.5h2M341 266.5h2M1607 127.5h2M1602 129.5h3M1456 156.5h5M190 228.5h2M231 228.5h2M14 362.5h2M1419 169.5h2M830 402.5h2M858 402.5h4M1486 150.5h3M1448 159.5h2M372 281.5h2M619 281.5h2M677 281.5h2M1282 281.5h2M7 367.5h2M493 331.5h6M545 331.5h3M754 331.5h2M979 331.5h2M1407 175.5h2M99 274.5h2M357 274.5h2M1293 274.5h2M39 342.5h2M1386 191.5h2M1611 125.5h2M1409 174.5h2M1580 138.5h3M113 265.5h2M339 265.5h2M1427 165.5h4M192 227.5h3M229 227.5h2M1583 137.5h2M1497 146.5h2M826 400.5h2M865 400.5h3M1392 186.5h2M1415 171.5h2M1619 121.5h2M1 371.5h2M919 389.5h2M257 249.5h4M499 332.5h5M542 332.5h3M977 332.5h2M1400 180.5h2M1482 151.5h4M1591 134.5h2M907 394.5h4M1613 124.5h2M1425 166.5h2M1630 117.5h4M1469 154.5h5M1494 147.5h3M1397 182.5h2M1621 120.5h2M23 356.5h2M1445 160.5h3M1577 139.5h3M1609 126.5h2M29 351.5h2M1404 177.5h2M1598 131.5h2M914 392.5h2M1423 167.5h2M1491 148.5h3M1411 173.5h2M1600 130.5h2M1413 172.5h2M922 387.5h2M98.5 275v1M43.5 339v1M1370.5 211v1M1350.5 232v1M954.5 353v1M757.5 333v1M1381.5 197v1M935.5 375v2M970.5 338v1M705.5 300v1M82.5 293v1M47.5 335v1M62.5 319v2M1302.5 267v1M576.5 312v1M1388.5 190v1M1005.5 309v1M1279.5 283v1M764.5 340v2M753.5 330v1M1380.5 198v2M735.5 318v1M1395.5 184v1M779.5 360v1M101.5 273v1M1403.5 178v1M749.5 327v1M6.5 368v1M558.5 323v1M1336.5 245v1M582.5 307v1M26.5 354v1M984.5 328v1M921.5 388v1M589.5 301v1M1316.5 257v1M88.5 283v2M33.5 348v1M777.5 357v2M932.5 379v1M781.5 363v1M948.5 359v2M811.5 390v1M600.5 292v1M940.5 369v1M95.5 277v1M960.5 347v1M998.5 315v1M1362.5 219v1M1342.5 240v1M1377.5 202v2M72.5 306v2M67.5 313v1M553.5 327v1M1369.5 212v1M78.5 298v2M1385.5 192v1M141.5 252v1M693.5 292v1M783.5 365v1M1396.5 183v1M575.5 313v1M1004.5 310v1M771.5 349v2M761.5 336v2M586.5 304v1M689.5 289v1M708.5 302v1M1286.5 279v1M3.5 370v1M1337.5 244v1M981.5 330v1M1344.5 238v1M1402.5 179v1M1019.5 298v1M590.5 300v1M246.5 239v1M685.5 286v1M1356.5 225v1M988.5 323v1M1351.5 231v1M597.5 294v1M41.5 341v1M941.5 367v2M1296.5 272v1M762.5 338v1M9.5 366v1M87.5 285v1M952.5 355v1M1363.5 218v1M763.5 339v1M53.5 328v1M726.5 313v1M241.5 235v1M83.5 291v2M48.5 333v2M681.5 283v1M153.5 243v1M944.5 364v1M550.5 329v1M959.5 348v1M1361.5 220v1M71.5 308v1M236.5 231v1M248.5 241v1M966.5 341v1M102.5 272v1M742.5 322v1M583.5 306v1M780.5 361v2M27.5 353v1M0.5 372v1M1009.5 306v1M148.5 247v1M34.5 347v1M1399.5 181v1M696.5 294v1M38.5 343v1M767.5 344v2M953.5 354v1M692.5 291v1M711.5 304v1M1355.5 226v1M987.5 324v1M965.5 342v1M945.5 363v1M596.5 295v1M1301.5 268v1M1347.5 235v1M52.5 329v1M788.5 370v1M1374.5 207v1M688.5 288v1M44.5 338v1M59.5 323v1M16.5 361v1M1002.5 312v1M75.5 302v2M769.5 347v1M70.5 309v1M255.5 247v1M971.5 337v1M702.5 298v1M557.5 324v1M442.5 315v1M145.5 249v1M250.5 243v1M716.5 307v1M239.5 233v1M240.5 234v1M927.5 383v1M1333.5 247v1M986.5 325v2M745.5 324v1M235.5 230v1M46.5 336v1M1274.5 286v1M37.5 344v1M1406.5 176v1M77.5 300v1M933.5 378v1M699.5 296v1M1354.5 227v1M1375.5 205v2M964.5 343v1M601.5 291v1M1391.5 187v1M65.5 315v2M1366.5 215v1M60.5 322v1M1003.5 311v1M721.5 310v1M784.5 366v1M785.5 367v1M1307.5 263v1M1373.5 208v1M581.5 308v1M1010.5 305v1M63.5 318v1M1001.5 313v1M765.5 342v1M766.5 343v1M144.5 250v1M587.5 303v1M1016.5 300v1M1291.5 276v1M86.5 286v2M31.5 350v1M247.5 240v1M951.5 356v1M786.5 368v1M787.5 369v1M926.5 384v1M946.5 362v1M1353.5 228v2M1348.5 234v1M152.5 244v1M938.5 371v2M93.5 279v1M958.5 349v1M1345.5 237v1M996.5 317v1M1360.5 221v1M768.5 346v1M242.5 236v1M778.5 359v1M253.5 245v1M50.5 331v1M793.5 375v1M254.5 246v1M85.5 288v1M45.5 337v1M1352.5 230v1M81.5 294v2M956.5 351v1M1367.5 214v1M76.5 301v1M1297.5 271v1M1383.5 194v1M937.5 373v1M1378.5 201v1M972.5 336v1M249.5 242v1M158.5 240v1M800.5 381v1M1308.5 262v1M963.5 344v1M1390.5 188v1M64.5 317v1M770.5 348v1M795.5 377v1M580.5 309v1M256.5 248v1M1331.5 249v1M1292.5 275v1M1013.5 302v1M28.5 352v1M595.5 296v1M423.5 305v1M90.5 281v1M934.5 377v1M772.5 351v1M993.5 319v1M950.5 357v1M782.5 364v1M931.5 380v1M51.5 330v1M602.5 290v1M942.5 366v1M957.5 350v1M58.5 324v1M74.5 304v1M1359.5 222v1M1379.5 200v1M789.5 371v1M49.5 332v1M69.5 310v2M80.5 296v1M774.5 353v2M245.5 238v1M68.5 312v1M1006.5 308v1M916.5 391v1M588.5 302v1M32.5 349v1M802.5 383v1M1339.5 242v1M791.5 373v1M792.5 374v1M939.5 370v1M36.5 345v1M776.5 356v1M985.5 327v1M79.5 297v1M594.5 297v1M1298.5 270v1M1384.5 193v1M1365.5 216v1M89.5 282v1M1295.5 273v1M12.5 364v1M992.5 320v1M949.5 358v1M136.5 255v1M930.5 381v1M1372.5 209v1M961.5 346v1M57.5 325v1M73.5 305v1M554.5 326v1M1332.5 248v1M1304.5 265v1M22.5 357v1M61.5 321v1M976.5 333v1M562.5 320v1M814.5 392v1M1394.5 185v1M1011.5 304v1M925.5 385v1M593.5 298v1M418.5 302v1M1338.5 243v1M810.5 389v1M84.5 289v2M684.5 285v1M943.5 365v1M35.5 346v1M955.5 352v1M750.5 328v1M1382.5 195v2M794.5 376v1M1357.5 224v1M805.5 385v1M989.5 322v1M806.5 386v1M947.5 361v1M42.5 340v1M962.5 345v1M1303.5 266v1M1349.5 233v1M1389.5 189v1M1364.5 217v1M94.5 278v1M54.5 327v1M997.5 316v1M746.5 325v1M969.5 339v1M105.5 270v1M801.5 382v1M1376.5 204v1M790.5 372v1M66.5 314v1M1371.5 210v1M19.5 359v1M1368.5 213v1M760.5 335v1M973.5 335v1M796.5 378v1M775.5 355v1M1313.5 259v1M807.5 387v1M797.5 379v1M1012.5 303v1M577.5 311v1M756.5 332v1M112.5 266v1M561.5 321v1M821.5 397v1M25.5 355v1M924.5 386v1M149.5 246v1M1346.5 236v1M13.5 363v1M936.5 374v1M1343.5 239v1M773.5 352v1M817.5 394v1M1358.5 223v1M818.5 395v1" fill="none" stroke="#FFA500" stroke-width="1" shape-rendering="crispEdges"/>
<g shape-rendering="crispEdges">
<rect x="1" y="148" width="1680" height="2" fill="#22CC22"/>
<rect x="1" y="206" width="1680" height="2" fill="#3A66DD"/>
<rect x="1" y="264" width="1680" height="2" fill="#3A66DD"/>
<rect x="1" y="322" width="1680" height="2" fill="#3A66DD"/>
<rect x="1683" y="130" width="41" height="11" fill="#000"/>
<rect x="1683" y="143" width="41" height="11" fill="#32CD32"/>
<rect x="1683" y="201" width="41" height="11" fill="#4169E1"/>
<rect x="1683" y="259" width="41" height="11" fill="#4169E1"/>
<rect x="1683" y="317" width="41" height="11" fill="#4169E1"/>
</g>
<text transform="translate(1687.5,139) scale(0.889,1)" style="font-size:10.1px;fill:#fff">1768.52</text>
<text transform="translate(1687.5,152) scale(0.889,1)" style="font-size:10.1px;fill:#fff">1765.00</text>
<text transform="translate(1687.5,210) scale(0.889,1)" style="font-size:10.1px;fill:#fff">1750.00</text>
<text transform="translate(1687.5,268) scale(0.889,1)" style="font-size:10.1px;fill:#fff">1735.00</text>
<text transform="translate(1687.5,326) scale(0.889,1)" style="font-size:10.1px;fill:#fff">1720.00</text>
<path d="M4 38 h7 l-3.5 4 z" fill="#000"/>
<text x="15.7" y="43.4" textLength="57.1" lengthAdjust="spacingAndGlyphs" style="font-size:10.1px;fill:#000">XAUUSD-,H4</text>
<text transform="translate(79.3,43.4) scale(0.889,1)" style="font-size:10.1px;fill:#000">1770.14</text>
<text transform="translate(115.4,43.4) scale(0.889,1)" style="font-size:10.1px;fill:#000">1770.65</text>
<text transform="translate(151.5,43.4) scale(0.889,1)" style="font-size:10.1px;fill:#000">1768.05</text>
<text transform="translate(187.4,43.4) scale(0.889,1)" style="font-size:10.1px;fill:#000">1768.52</text>
<text x="1234.6" y="449.6" style="font-size:36.6px;fill:#ED1C24">多空转折点<tspan x="1416.2" y="447.8" style="font-size:37.6px">1765</tspan></text>
<g shape-rendering="crispEdges" fill="#C0C0C0">
<rect x="1" y="586" width="1" height="25"/>
<rect x="9" y="581" width="1" height="30"/>
<rect x="17" y="576" width="1" height="35"/>
<rect x="25" y="574" width="1" height="37"/>
<rect x="33" y="570" width="1" height="41"/>
<rect x="41" y="569" width="1" height="42"/>
<rect x="49" y="563" width="1" height="48"/>
<rect x="57" y="560" width="1" height="51"/>
<rect x="65" y="553" width="1" height="58"/>
<rect x="73" y="546" width="1" height="65"/>
<rect x="81" y="542" width="1" height="69"/>
<rect x="89" y="541" width="1" height="70"/>
<rect x="97" y="548" width="1" height="63"/>
<rect x="105" y="558" width="1" height="53"/>
<rect x="113" y="565" width="1" height="46"/>
<rect x="121" y="570" width="1" height="41"/>
<rect x="129" y="577" width="1" height="34"/>
<rect x="137" y="581" width="1" height="30"/>
<rect x="145" y="582" width="1" height="29"/>
<rect x="153" y="581" width="1" height="30"/>
<rect x="161" y="581" width="1" height="30"/>
<rect x="169" y="580" width="1" height="31"/>
<rect x="177" y="579" width="1" height="32"/>
<rect x="185" y="578" width="1" height="33"/>
<rect x="193" y="580" width="1" height="31"/>
<rect x="201" y="580" width="1" height="31"/>
<rect x="209" y="581" width="1" height="30"/>
<rect x="217" y="585" width="1" height="26"/>
<rect x="225" y="591" width="1" height="20"/>
<rect x="233" y="596" width="1" height="15"/>
<rect x="241" y="605" width="1" height="6"/>
<rect x="257" y="610" width="1" height="5"/>
<rect x="265" y="610" width="1" height="8"/>
<rect x="273" y="610" width="1" height="7"/>
<rect x="281" y="610" width="1" height="8"/>
<rect x="289" y="610" width="1" height="9"/>
<rect x="297" y="610" width="1" height="7"/>
<rect x="305" y="610" width="1" height="8"/>
<rect x="313" y="610" width="1" height="9"/>
<rect x="321" y="610" width="1" height="10"/>
<rect x="329" y="610" width="1" height="12"/>
<rect x="337" y="610" width="1" height="11"/>
<rect x="345" y="610" width="1" height="11"/>
<rect x="353" y="610" width="1" height="11"/>
<rect x="361" y="610" width="1" height="10"/>
<rect x="369" y="610" width="1" height="9"/>
<rect x="377" y="610" width="1" height="9"/>
<rect x="385" y="610" width="1" height="16"/>
<rect x="393" y="610" width="1" height="22"/>
<rect x="401" y="610" width="1" height="25"/>
<rect x="409" y="610" width="1" height="30"/>
<rect x="417" y="610" width="1" height="33"/>
<rect x="425" y="610" width="1" height="38"/>
<rect x="433" y="610" width="1" height="41"/>
<rect x="441" y="610" width="1" height="38"/>
<rect x="449" y="610" width="1" height="37"/>
<rect x="457" y="610" width="1" height="34"/>
<rect x="465" y="610" width="1" height="28"/>
<rect x="473" y="610" width="1" height="24"/>
<rect x="481" y="610" width="1" height="19"/>
<rect x="489" y="610" width="1" height="16"/>
<rect x="497" y="610" width="1" height="13"/>
<rect x="505" y="610" width="1" height="11"/>
<rect x="513" y="610" width="1" height="9"/>
<rect x="521" y="610" width="1" height="4"/>
<rect x="529" y="609" width="1" height="2"/>
<rect x="537" y="605" width="1" height="6"/>
<rect x="545" y="599" width="1" height="12"/>
<rect x="553" y="594" width="1" height="17"/>
<rect x="561" y="591" width="1" height="20"/>
<rect x="569" y="590" width="1" height="21"/>
<rect x="577" y="588" width="1" height="23"/>
<rect x="585" y="586" width="1" height="25"/>
<rect x="593" y="585" width="1" height="26"/>
<rect x="601" y="584" width="1" height="27"/>
<rect x="609" y="586" width="1" height="25"/>
<rect x="617" y="586" width="1" height="25"/>
<rect x="625" y="591" width="1" height="20"/>
<rect x="633" y="595" width="1" height="16"/>
<rect x="641" y="599" width="1" height="12"/>
<rect x="649" y="604" width="1" height="7"/>
<rect x="657" y="609" width="1" height="2"/>
<rect x="665" y="610" width="1" height="1"/>
<rect x="673" y="610" width="1" height="13"/>
<rect x="681" y="610" width="1" height="24"/>
<rect x="689" y="610" width="1" height="30"/>
<rect x="697" y="610" width="1" height="34"/>
<rect x="705" y="610" width="1" height="37"/>
<rect x="713" y="610" width="1" height="36"/>
<rect x="721" y="610" width="1" height="33"/>
<rect x="729" y="610" width="1" height="28"/>
<rect x="737" y="610" width="1" height="27"/>
<rect x="745" y="610" width="1" height="27"/>
<rect x="753" y="610" width="1" height="26"/>
<rect x="761" y="610" width="1" height="27"/>
<rect x="769" y="610" width="1" height="38"/>
<rect x="777" y="610" width="1" height="45"/>
<rect x="785" y="610" width="1" height="51"/>
<rect x="793" y="610" width="1" height="51"/>
<rect x="801" y="610" width="1" height="48"/>
<rect x="809" y="610" width="1" height="47"/>
<rect x="817" y="610" width="1" height="45"/>
<rect x="825" y="610" width="1" height="41"/>
<rect x="833" y="610" width="1" height="37"/>
<rect x="841" y="610" width="1" height="34"/>
<rect x="849" y="610" width="1" height="30"/>
<rect x="857" y="610" width="1" height="22"/>
<rect x="865" y="610" width="1" height="14"/>
<rect x="873" y="610" width="1" height="7"/>
<rect x="881" y="610" width="1" height="2"/>
<rect x="889" y="609" width="1" height="2"/>
<rect x="897" y="605" width="1" height="6"/>
<rect x="905" y="599" width="1" height="12"/>
<rect x="913" y="597" width="1" height="14"/>
<rect x="921" y="586" width="1" height="25"/>
<rect x="929" y="580" width="1" height="31"/>
<rect x="937" y="577" width="1" height="34"/>
<rect x="945" y="573" width="1" height="38"/>
<rect x="953" y="574" width="1" height="37"/>
<rect x="961" y="572" width="1" height="39"/>
<rect x="969" y="574" width="1" height="37"/>
<rect x="977" y="576" width="1" height="35"/>
<rect x="985" y="579" width="1" height="32"/>
<rect x="993" y="578" width="1" height="33"/>
<rect x="1001" y="577" width="1" height="34"/>
<rect x="1009" y="577" width="1" height="34"/>
<rect x="1017" y="578" width="1" height="33"/>
<rect x="1025" y="580" width="1" height="31"/>
<rect x="1033" y="582" width="1" height="29"/>
<rect x="1041" y="588" width="1" height="23"/>
<rect x="1049" y="597" width="1" height="14"/>
<rect x="1057" y="600" width="1" height="11"/>
<rect x="1065" y="601" width="1" height="10"/>
<rect x="1073" y="602" width="1" height="9"/>
<rect x="1081" y="601" width="1" height="10"/>
<rect x="1089" y="601" width="1" height="10"/>
<rect x="1097" y="601" width="1" height="10"/>
<rect x="1105" y="602" width="1" height="9"/>
<rect x="1113" y="603" width="1" height="8"/>
<rect x="1121" y="603" width="1" height="8"/>
<rect x="1129" y="604" width="1" height="7"/>
<rect x="1137" y="605" width="1" height="6"/>
<rect x="1145" y="609" width="1" height="2"/>
<rect x="1153" y="609" width="1" height="2"/>
<rect x="1161" y="608" width="1" height="3"/>
<rect x="1169" y="607" width="1" height="4"/>
<rect x="1177" y="606" width="1" height="5"/>
<rect x="1185" y="606" width="1" height="5"/>
<rect x="1193" y="609" width="1" height="2"/>
<rect x="1201" y="610" width="1" height="1"/>
<rect x="1209" y="610" width="1" height="1"/>
<rect x="1217" y="610" width="1" height="1"/>
<rect x="1225" y="610" width="1" height="1"/>
<rect x="1233" y="608" width="1" height="3"/>
<rect x="1241" y="604" width="1" height="7"/>
<rect x="1249" y="598" width="1" height="13"/>
<rect x="1257" y="595" width="1" height="16"/>
<rect x="1265" y="588" width="1" height="23"/>
<rect x="1273" y="582" width="1" height="29"/>
<rect x="1281" y="581" width="1" height="30"/>
<rect x="1289" y="579" width="1" height="32"/>
<rect x="1297" y="574" width="1" height="37"/>
<rect x="1305" y="571" width="1" height="40"/>
<rect x="1313" y="569" width="1" height="42"/>
<rect x="1321" y="570" width="1" height="41"/>
<rect x="1329" y="570" width="1" height="41"/>
<rect x="1337" y="569" width="1" height="42"/>
<rect x="1345" y="565" width="1" height="46"/>
<rect x="1353" y="561" width="1" height="50"/>
<rect x="1361" y="559" width="1" height="52"/>
<rect x="1369" y="558" width="1" height="53"/>
<rect x="1377" y="557" width="1" height="54"/>
<rect x="1385" y="554" width="1" height="57"/>
<rect x="1393" y="557" width="1" height="54"/>
<rect x="1401" y="560" width="1" height="51"/>
<rect x="1409" y="565" width="1" height="46"/>
<rect x="1417" y="568" width="1" height="43"/>
<rect x="1425" y="570" width="1" height="41"/>
<rect x="1433" y="575" width="1" height="36"/>
<rect x="1441" y="579" width="1" height="32"/>
<rect x="1449" y="581" width="1" height="30"/>
<rect x="1457" y="582" width="1" height="29"/>
<rect x="1465" y="585" width="1" height="26"/>
<rect x="1473" y="587" width="1" height="24"/>
<rect x="1481" y="589" width="1" height="22"/>
<rect x="1489" y="589" width="1" height="22"/>
<rect x="1497" y="589" width="1" height="22"/>
<rect x="1505" y="588" width="1" height="23"/>
<rect x="1513" y="586" width="1" height="25"/>
<rect x="1521" y="587" width="1" height="24"/>
<rect x="1529" y="587" width="1" height="24"/>
<rect x="1537" y="587" width="1" height="24"/>
<rect x="1545" y="588" width="1" height="23"/>
<rect x="1553" y="588" width="1" height="23"/>
<rect x="1561" y="589" width="1" height="22"/>
<rect x="1569" y="589" width="1" height="22"/>
<rect x="1577" y="592" width="1" height="19"/>
<rect x="1585" y="588" width="1" height="23"/>
<rect x="1593" y="586" width="1" height="25"/>
<rect x="1601" y="583" width="1" height="28"/>
<rect x="1609" y="582" width="1" height="29"/>
<rect x="1617" y="579" width="1" height="32"/>
<rect x="1625" y="579" width="1" height="32"/>
<rect x="1633" y="587" width="1" height="24"/>
<rect x="1641" y="590" width="1" height="21"/>
<rect x="1649" y="594" width="1" height="17"/>
<rect x="1657" y="598" width="1" height="13"/>
</g>
<path d="M128 554.5h2M176 576.5h2M985 576.5h3M1022 576.5h2M1027 576.5h3M1472 576.5h2M1352 569.5h2M1454 569.5h2M938 596.5h2M1099 596.5h3M32 585.5h2M241 585.5h2M1513 585.5h3M1615 585.5h3M49 578.5h2M187 578.5h3M974 578.5h2M1321 578.5h2M1478 578.5h2M193 579.5h3M199 579.5h3M205 579.5h3M211 579.5h3M217 579.5h3M1040 579.5h2M409 626.5h2M385 622.5h3M902 622.5h2M1399 559.5h3M1417 559.5h3M523 627.5h2M895 627.5h2M1 600.5h2M271 600.5h2M577 600.5h2M673 600.5h2M932 600.5h2M1112 600.5h2M1273 600.5h2M614 587.5h2M619 587.5h3M631 587.5h3M955 587.5h2M1069 587.5h3M1526 587.5h2M1531 587.5h3M1537 587.5h3M1543 587.5h3M1549 587.5h3M1555 587.5h3M1561 587.5h3M1567 587.5h3M1573 587.5h3M1579 587.5h3M1585 587.5h3M1591 587.5h3M1597 587.5h3M1603 587.5h3M1046 580.5h2M1315 580.5h3M1484 580.5h2M326 619.5h2M331 619.5h3M337 619.5h3M1166 605.5h2M1171 605.5h3M1177 605.5h3M1255 605.5h3M595 592.5h3M656 592.5h2M1292 592.5h2M13 594.5h2M260 594.5h2M590 594.5h2M662 594.5h2M85 558.5h2M139 558.5h2M1406 558.5h2M1411 558.5h3M452 642.5h2M481 642.5h3M775 642.5h3M391 623.5h3M91 555.5h3M1142 602.5h2M1147 602.5h3M644 589.5h2M1076 589.5h2M1297 589.5h2M625 586.5h3M1064 586.5h2M1303 586.5h2M1519 586.5h3M1609 586.5h3M686 608.5h2M1214 608.5h2M1219 608.5h3M1225 608.5h3M1231 608.5h3M146 562.5h2M1381 562.5h3M961 584.5h2M1502 584.5h2M1507 584.5h3M1622 584.5h2M1627 584.5h3M1633 584.5h3M1639 584.5h3M1645 584.5h3M1651 584.5h3M428 632.5h2M721 632.5h2M829 654.5h3M55 575.5h2M991 575.5h3M997 575.5h3M1003 575.5h3M1009 575.5h3M1015 575.5h3M1328 575.5h2M253 590.5h2M601 590.5h3M649 590.5h3M949 590.5h2M1081 590.5h2M800 648.5h2M43 581.5h2M224 581.5h2M967 581.5h2M1051 581.5h3M1489 581.5h3M823 653.5h3M848 653.5h2M806 649.5h2M859 649.5h2M163 571.5h2M1345 571.5h3M1459 571.5h3M97 553.5h3M463 644.5h3M469 644.5h3M787 644.5h3M151 565.5h2M1369 565.5h3M284 607.5h2M1201 607.5h3M1207 607.5h3M1238 607.5h2M1243 607.5h3M134 556.5h2M103 552.5h3M121 552.5h3M277 603.5h2M571 603.5h2M679 603.5h2M1153 603.5h3M1262 603.5h2M73 564.5h2M1441 564.5h2M1465 573.5h2M487 641.5h3M745 641.5h3M751 641.5h3M757 641.5h3M763 641.5h3M769 641.5h3M1118 601.5h2M1123 601.5h3M1129 601.5h3M1135 601.5h3M1268 601.5h2M25 588.5h2M248 588.5h2M608 588.5h2M638 588.5h2M1159 604.5h3M919 611.5h2M296 613.5h2M692 613.5h2M505 634.5h2M343 620.5h3M349 620.5h3M355 620.5h3M361 620.5h3M367 621.5h3M373 621.5h3M379 621.5h3M535 621.5h2M1376 563.5h2M1436 563.5h2M79 561.5h2M1387 561.5h3M1429 561.5h3M308 615.5h2M547 615.5h2M230 582.5h2M811 650.5h3M793 646.5h3M865 646.5h2M38 583.5h2M235 583.5h3M1057 583.5h2M1309 583.5h2M1496 583.5h2M289 610.5h2M494 639.5h2M739 639.5h3M421 630.5h3M890 630.5h2M169 574.5h3M1333 574.5h3M565 606.5h2M1183 606.5h3M1189 606.5h3M1195 606.5h3M1249 606.5h3M559 609.5h2M1105 598.5h3M19 591.5h2M854 651.5h2M110 551.5h2M115 551.5h3M943 593.5h2M1087 593.5h2M457 643.5h3M476 643.5h2M782 643.5h2M871 643.5h2M446 640.5h2M320 618.5h2M541 618.5h2M698 618.5h2M181 577.5h3M979 577.5h3M1033 577.5h3M313 616.5h3M440 638.5h2M398 624.5h2M529 624.5h2M1094 595.5h2M1285 595.5h3M512 631.5h2M415 629.5h2M518 629.5h2M715 629.5h2M1393 560.5h3M1423 560.5h3M302 614.5h2M913 614.5h2M68 567.5h2M1448 567.5h2M817 652.5h3M7 597.5h2M265 597.5h2M583 597.5h2M668 597.5h2M1279 597.5h2M499 637.5h2M733 637.5h3M404 625.5h2M433 635.5h2M727 635.5h2M1340 572.5h2M553 612.5h2M157 568.5h2M1357 568.5h3M1364 566.5h2M835 655.5h3M841 655.5h3M159.5 569v1M1351.5 570v1M525.5 626v1M1405.5 559v1M711.5 627v1M223.5 580v1M1093.5 594v1M411.5 627v1M847.5 654v1M805.5 648v1M1267.5 602v1M723.5 633v1M567.5 605v1M1141.5 601v1M681.5 604v1M1525.5 586v1M1495.5 582v1M517.5 630v1M229.5 581v1M655.5 591v1M62.5 571v1M877.5 640v1M951.5 589v1M908.5 618v1M1657.5 584v1M1323.5 577v1M501.5 636v1M1501.5 583v1M703.5 621v1M873.5 642v1M885.5 634v1M1083.5 591v1M589.5 595v1M243.5 586v1M555.5 611v1M15.5 593v1M927.5 604v1M931.5 601v1M493.5 640v1M81.5 560v1M439.5 637v1M37.5 584v1M973.5 579v1M861.5 648v1M879.5 638v1M945.5 592v1M937.5 597v1M781.5 642v1M61.5 572v1M907.5 619v1M87.5 557v1M1467.5 574v1M3.5 599v1M549.5 614v1M675.5 601v1M247.5 587v1M291.5 611v1M511.5 632v1M867.5 645v1M325.5 618v1M1165.5 604v1M926.5 605v1M637.5 587v1M133.5 555v1M667.5 596v1M9.5 596v1M1435.5 562v1M1477.5 577v1M1213.5 607v1M704.5 622v1M279.5 604v1M897.5 626v1M75.5 563v1M921.5 610v1M878.5 639v1M1621.5 585v1M109.5 552v1M283.5 606v1M267.5 598v1M613.5 588v1M319.5 617v1M1443.5 565v1M889.5 631v1M901.5 623v1M67.5 568v1M1483.5 579v1M579.5 599v1M165.5 572v1M63.5 570v1M909.5 617v1M31.5 586v1M1111.5 599v1M153.5 566v1M643.5 588v1M403.5 624v1M729.5 636v1M301.5 613v1M255.5 591v1M51.5 577v1M1281.5 596v1M717.5 630v1M685.5 607v1M1117.5 600v1M585.5 596v1M259.5 593v1M127.5 553v1M417.5 630v1M543.5 617v1M307.5 614v1M1453.5 568v1M853.5 652v1M1339.5 573v1M57.5 574v1M451.5 641v1M175.5 575v1M1261.5 604v1M1471.5 575v1M884.5 635v1M145.5 561v1M27.5 587v1M1327.5 576v1M573.5 602v1M710.5 626v1M1045.5 579v1M691.5 612v1M295.5 612v1M1311.5 582v1M705.5 623v1M969.5 580v1M141.5 559v1M1075.5 588v1M435.5 636v1M709.5 625v1M661.5 593v1M915.5 613v1M397.5 623v1M531.5 623v1M1089.5 594v1M537.5 620v1M273.5 601v1M957.5 586v1M507.5 633v1M1275.5 599v1M1059.5 584v1M45.5 580v1M1237.5 608v1M1021.5 575v1M561.5 608v1M799.5 647v1M1447.5 566v1M1299.5 588v1M607.5 589v1M427.5 631v1M1291.5 593v1M475.5 644v1M1063.5 585v1M1375.5 564v1M883.5 636v1M1305.5 585v1M445.5 639v1M963.5 583v1M1039.5 578v1M1363.5 567v1M925.5 606v1M697.5 617v1M21.5 590v1" fill="none" stroke="#FF0000" stroke-width="1" shape-rendering="crispEdges"/>
<text x="5.6" y="542" textLength="65.1" lengthAdjust="spacingAndGlyphs" style="font-size:10.1px;fill:#000">MACD(12,26,9)</text>
<text transform="translate(74,542) scale(0.889,1)" style="font-size:10.1px;fill:#000">2.414</text>
<text transform="translate(99.9,542) scale(0.889,1)" style="font-size:10.1px;fill:#000">4.646</text>
<g shape-rendering="crispEdges" fill="#000"><rect x="1682" y="531" width="2" height="1"/><rect x="1682" y="610" width="1" height="1"/><rect x="1682" y="666" width="2" height="1"/></g>
<text transform="translate(1685,540) scale(0.889,1)" style="font-size:10.1px;fill:#000">15.105</text>
<text transform="translate(1685,614) scale(0.889,1)" style="font-size:10.1px;fill:#000">0.00</text>
<text transform="translate(1685,665) scale(0.889,1)" style="font-size:10.1px;fill:#000">-10.963</text>
<g shape-rendering="crispEdges">
<line x1="1" y1="701.5" x2="1681" y2="701.5" stroke="#C0C0C0" stroke-width="1" stroke-dasharray="3,3"/>
<line x1="1" y1="741.5" x2="1681" y2="741.5" stroke="#C0C0C0" stroke-width="1" stroke-dasharray="3,3"/>
</g>
<path d="M252 731.5h4M448 731.5h3M657 731.5h3M714 731.5h2M758 731.5h2M799 731.5h2M804 731.5h4M818 731.5h2M182 710.5h5M525 710.5h2M532 710.5h2M564 710.5h2M575 710.5h2M582 710.5h8M596 710.5h4M901 710.5h2M948 710.5h2M1396 710.5h4M1502 710.5h2M1516 710.5h2M1542 710.5h8M1555 710.5h2M1568 710.5h2M152 713.5h6M191 713.5h2M196 713.5h4M204 713.5h4M570 713.5h2M604 713.5h2M615 713.5h2M865 713.5h11M892 713.5h4M955 713.5h2M991 713.5h2M1008 713.5h6M1236 713.5h4M1406 713.5h2M1414 713.5h6M1456 713.5h2M1489 713.5h5M1521 713.5h5M1561 713.5h2M527 709.5h2M530 709.5h2M542 709.5h2M577 709.5h5M590 709.5h6M903 709.5h2M906 709.5h2M936 709.5h4M1244 709.5h2M1321 709.5h2M1393 709.5h3M1504 709.5h6M1514 709.5h2M1550 709.5h5M1592 709.5h4M100 721.5h4M108 721.5h4M127 721.5h2M131 721.5h3M219 721.5h2M295 721.5h2M299 721.5h2M364 721.5h2M472 721.5h3M487 721.5h2M492 721.5h4M500 721.5h4M850 721.5h2M1059 721.5h3M1072 721.5h3M1104 721.5h6M1132 721.5h4M1222 721.5h2M1641 721.5h3M166 711.5h16M187 711.5h2M523 711.5h2M600 711.5h2M899 711.5h2M959 711.5h2M962 711.5h2M998 711.5h6M1400 711.5h3M1424 711.5h2M1499 711.5h3M1534 711.5h8M1557 711.5h2M1566 711.5h2M316 727.5h4M326 727.5h8M347 727.5h3M375 727.5h2M457 727.5h2M646 727.5h5M736 727.5h3M830 727.5h8M842 727.5h2M550 708.5h8M934 708.5h2M940 708.5h4M1281 708.5h5M1319 708.5h2M1323 708.5h3M1510 708.5h4M1590 708.5h2M1596 708.5h4M241 733.5h5M795 733.5h2M545 707.5h5M558 707.5h4M931 707.5h3M944 707.5h2M1256 707.5h2M1286 707.5h4M1326 707.5h2M1587 707.5h3M1600 707.5h11M392 738.5h4M405 738.5h2M696 738.5h10M120 718.5h3M139 718.5h3M214 718.5h2M480 718.5h3M855 718.5h2M1080 718.5h6M1094 718.5h5M1158 718.5h2M1164 718.5h4M1433 718.5h5M1467 718.5h3M97 720.5h3M112 720.5h4M125 720.5h2M134 720.5h2M217 720.5h2M297 720.5h2M362 720.5h2M475 720.5h3M485 720.5h2M496 720.5h4M852 720.5h2M1036 720.5h2M1062 720.5h2M1068 720.5h4M1075 720.5h3M1102 720.5h2M1110 720.5h22M1153 720.5h2M1174 720.5h8M1186 720.5h2M1224 720.5h2M928 706.5h3M1252 706.5h4M1258 706.5h2M1290 706.5h2M1316 706.5h2M1328 706.5h6M1585 706.5h2M1611 706.5h3M320 728.5h6M350 728.5h2M455 728.5h2M651 728.5h2M718 728.5h2M739 728.5h3M822 728.5h2M838 728.5h4M1046 728.5h2M142 717.5h2M857 717.5h2M982 717.5h4M1032 717.5h2M1160 717.5h4M1438 717.5h6M1462 717.5h2M1470 717.5h2M1478 717.5h5M150 714.5h2M193 714.5h3M208 714.5h2M613 714.5h2M863 714.5h2M876 714.5h4M886 714.5h6M953 714.5h2M967 714.5h2M1014 714.5h13M1233 714.5h3M1408 714.5h6M1428 714.5h2M1452 714.5h4M1458 714.5h2M1487 714.5h2M104 722.5h4M129 722.5h2M221 722.5h2M274 722.5h2M293 722.5h2M301 722.5h2M468 722.5h4M489 722.5h3M504 722.5h10M1057 722.5h2M1136 722.5h2M1208 722.5h6M1219 722.5h3M1639 722.5h2M1644 722.5h4M388 737.5h4M396 737.5h4M403 737.5h2M706 737.5h2M281 726.5h3M312 726.5h4M334 726.5h13M373 726.5h2M459 726.5h2M640 726.5h6M721 726.5h3M734 726.5h2M825 726.5h5M407 739.5h2M692 739.5h4M230 725.5h4M279 725.5h2M284 725.5h4M308 725.5h4M371 725.5h2M461 725.5h2M636 725.5h4M724 725.5h4M731 725.5h3M1042 725.5h2M1140 725.5h2M1193 725.5h5M1633 725.5h2M147 715.5h3M210 715.5h2M607 715.5h2M611 715.5h2M861 715.5h2M880 715.5h6M969 715.5h5M988 715.5h2M1027 715.5h3M1448 715.5h4M1485 715.5h2M425 744.5h9M678 744.5h5M772 744.5h2M225 724.5h5M288 724.5h3M305 724.5h3M369 724.5h2M463 724.5h2M630 724.5h6M728 724.5h3M846 724.5h2M1198 724.5h6M1635 724.5h2M1654 724.5h4M22 701.5h5M36 701.5h2M55 701.5h2M58 701.5h2M1265 701.5h5M1297 701.5h2M1343 701.5h2M1366 701.5h8M144 716.5h3M609 716.5h2M859 716.5h2M974 716.5h8M986 716.5h2M1030 716.5h2M1230 716.5h2M1444 716.5h4M1472 716.5h6M1483 716.5h2M223 723.5h2M276 723.5h2M291 723.5h2M303 723.5h2M367 723.5h2M465 723.5h3M625 723.5h5M1190 723.5h2M1204 723.5h4M1214 723.5h5M1637 723.5h2M1648 723.5h6M926 705.5h2M1249 705.5h3M1314 705.5h2M1334 705.5h4M1614 705.5h2M116 719.5h4M123 719.5h2M136 719.5h3M478 719.5h2M483 719.5h2M1064 719.5h4M1078 719.5h2M1086 719.5h8M1099 719.5h3M1155 719.5h3M1168 719.5h6M1182 719.5h4M1226 719.5h2M1465 719.5h2M70 695.5h16M6 700.5h16M27 700.5h3M1270 700.5h4M1345 700.5h3M1360 700.5h6M1374 700.5h4M1299 702.5h3M158 712.5h8M189 712.5h2M200 712.5h4M521 712.5h2M535 712.5h2M538 712.5h2M572 712.5h2M602 712.5h2M896 712.5h3M910 712.5h2M957 712.5h2M964 712.5h2M993 712.5h5M1004 712.5h4M1240 712.5h2M1403 712.5h3M1420 712.5h4M1494 712.5h5M1519 712.5h2M1526 712.5h8M1559 712.5h2M1563 712.5h3M256 730.5h10M444 730.5h4M451 730.5h2M655 730.5h2M660 730.5h4M744 730.5h6M755 730.5h3M801 730.5h3M419 741.5h2M687 741.5h2M777 741.5h5M409 740.5h10M689 740.5h3M385 736.5h3M400 736.5h3M246 732.5h6M760 732.5h2M797 732.5h2M808 732.5h10M65 696.5h5M1383 696.5h2M710 734.5h2M793 734.5h2M1 699.5h5M30 699.5h2M52 699.5h2M1348 699.5h4M1356 699.5h4M1378 699.5h2M423 743.5h2M673 743.5h5M683 743.5h2M923 704.5h3M1304 704.5h10M1338 704.5h2M1616 704.5h2M352 729.5h2M441 729.5h3M453 729.5h2M653 729.5h2M664 729.5h2M742 729.5h2M750 729.5h5M32 698.5h2M50 698.5h2M62 698.5h2M1352 698.5h4M1380 698.5h2M86 694.5h4M921 703.5h2M1262 703.5h2M1294 703.5h2M1302 703.5h2M1340 703.5h2M421 742.5h2M685 742.5h2M775 742.5h2M782 742.5h4M770 745.5h2M355.5 726v2M670.5 737v2M515.5 719v2M1621.5 708v1M534.5 711v1M966.5 713v1M849.5 722v1M1148.5 726v1M271.5 723v1M518.5 716v1M1278.5 705v1M89.5 695v1M1232.5 715v1M1342.5 702v1M617.5 712v1M96.5 716v3M1432.5 717v1M668.5 734v2M672.5 741v2M57.5 702v1M790.5 737v1M1581.5 713v2M379.5 730v1M38.5 702v1M380.5 731v1M1296.5 702v1M713.5 732v1M440.5 730v2M919.5 706v1M618.5 713v2M1580.5 715v2M1150.5 723v1M34.5 699v1M1242.5 711v1M1386.5 696v2M381.5 732v1M40.5 704v1M382.5 733v1M41.5 705v1M359.5 721v2M519.5 714v2M821.5 729v1M48.5 698v1M620.5 716v1M621.5 717v2M909.5 711v1M764.5 737v2M1274.5 701v1M1623.5 710v1M1627.5 715v2M1570.5 711v2M905.5 708v1M1293.5 704v1M1052.5 727v1M269.5 725v2M1584.5 707v2M854.5 719v1M437.5 736v2M920.5 704v2M622.5 719v1M786.5 741v1M1188.5 721v1M1189.5 722v1M361.5 719v1M762.5 733v2M1056.5 723v1M763.5 735v2M64.5 697v1M1143.5 727v1M356.5 725v1M1044.5 726v1M1276.5 703v1M1277.5 704v1M918.5 707v1M1629.5 718v2M1579.5 717v2M1626.5 713v2M720.5 727v1M94.5 709v3M436.5 738v2M1572.5 714v1M234.5 726v1M1431.5 716v1M1139.5 724v1M1039.5 722v1M671.5 739v2M1040.5 723v1M1461.5 716v1M1261.5 704v1M845.5 725v1M1248.5 706v1M1427.5 713v1M1035.5 719v1M1583.5 709v2M1279.5 706v1M47.5 699v1M90.5 696v3M1631.5 721v2M93.5 706v3M1574.5 717v1M366.5 722v1M236.5 728v1M669.5 736v1M1582.5 711v2M1388.5 700v2M39.5 703v1M774.5 743v1M912.5 713v1M913.5 714v1M61.5 699v1M354.5 728v1M619.5 715v1M717.5 729v1M569.5 714v1M360.5 720v1M1147.5 727v1M908.5 710v1M1318.5 707v1M46.5 700v1M1390.5 703v2M435.5 740v2M1192.5 724v1M1260.5 705v1M1229.5 717v1M272.5 722v1M765.5 739v1M267.5 728v1M990.5 714v1M1464.5 718v1M1275.5 702v1M787.5 740v1M1571.5 713v1M1038.5 721v1M1049.5 730v1M1460.5 715v1M541.5 710v1M623.5 720v1M624.5 721v2M767.5 742v2M1045.5 727v1M1619.5 706v1M820.5 730v1M1630.5 720v1M1151.5 722v1M95.5 712v4M1573.5 715v2M1146.5 728v1M235.5 727v1M516.5 718v1M45.5 701v1M1518.5 711v1M667.5 732v2M268.5 727v1M709.5 735v1M1628.5 717v1M1632.5 723v2M1382.5 697v1M917.5 708v2M1578.5 719v2M1392.5 707v2M1144.5 728v1M1053.5 726v1M666.5 730v2M540.5 711v1M916.5 710v1M1577.5 721v1M278.5 724v1M357.5 724v1M1247.5 707v1M54.5 700v1M1391.5 705v2M520.5 713v1M1280.5 707v1M44.5 702v1M1575.5 718v1M237.5 729v1M238.5 730v1M1050.5 729v1M766.5 740v2M708.5 736v1M792.5 735v1M60.5 700v1M439.5 732v2M1264.5 702v1M1389.5 702v1M716.5 730v1M1054.5 725v1M438.5 734v2M1624.5 711v1M1152.5 721v1M537.5 713v1M434.5 742v2M844.5 726v1M239.5 731v1M240.5 732v1M517.5 717v1M768.5 744v2M92.5 703v3M574.5 711v1M1246.5 708v1M1048.5 729v1M266.5 729v1M824.5 727v1M961.5 710v1M1142.5 726v1M769.5 746v1M91.5 699v4M378.5 729v1M606.5 714v1M952.5 713v1M1576.5 719v2M1138.5 723v1M791.5 736v1M788.5 739v1M568.5 713v1M358.5 723v1M914.5 712v2M947.5 709v1M1145.5 729v1M1620.5 707v1M1228.5 718v1M563.5 709v1M213.5 717v1M1243.5 710v1M1041.5 724v1M544.5 708v1M42.5 704v1M273.5 721v1M35.5 700v1M1292.5 705v1M270.5 724v1M49.5 697v1M1622.5 709v1M1387.5 698v2M1055.5 724v1M712.5 733v1M1385.5 695v1M1149.5 724v2M1430.5 715v1M514.5 721v1M848.5 723v1M43.5 703v1M377.5 728v1M950.5 711v1M951.5 712v1M1426.5 712v1M1034.5 718v1M383.5 734v1M529.5 708v1M384.5 735v1M566.5 711v1M567.5 712v1M946.5 708v1M216.5 719v1M789.5 738v1M1618.5 705v1M915.5 711v1M562.5 708v1M1051.5 728v1M212.5 716v1M1625.5 712v1M97.5 719v1" fill="none" stroke="#1E90FF" stroke-width="1" shape-rendering="crispEdges"/>
<text x="5" y="683" textLength="32" lengthAdjust="spacingAndGlyphs" style="font-size:10.1px;fill:#000">RSI(14)</text>
<text transform="translate(40,683) scale(0.889,1)" style="font-size:10.1px;fill:#000">47.6019</text>
<g shape-rendering="crispEdges" fill="#000"><rect x="1682" y="672" width="2" height="1"/><rect x="1682" y="701" width="1" height="1"/><rect x="1682" y="741" width="1" height="1"/><rect x="1682" y="770" width="2" height="1"/></g>
<text transform="translate(1685,681) scale(0.889,1)" style="font-size:10.1px;fill:#000">100</text>
<text transform="translate(1685,705) scale(0.889,1)" style="font-size:10.1px;fill:#000">70</text>
<text transform="translate(1685,745) scale(0.889,1)" style="font-size:10.1px;fill:#000">30</text>
<text transform="translate(1685,769) scale(0.889,1)" style="font-size:10.1px;fill:#000">0</text>
<g shape-rendering="crispEdges" fill="#000">
<rect x="1" y="773" width="1" height="3"/>
<rect x="65" y="773" width="1" height="3"/>
<rect x="129" y="773" width="1" height="3"/>
<rect x="193" y="773" width="1" height="3"/>
<rect x="257" y="773" width="1" height="3"/>
<rect x="321" y="773" width="1" height="3"/>
<rect x="385" y="773" width="1" height="3"/>
<rect x="449" y="773" width="1" height="3"/>
<rect x="513" y="773" width="1" height="3"/>
<rect x="577" y="773" width="1" height="3"/>
<rect x="641" y="773" width="1" height="3"/>
<rect x="705" y="773" width="1" height="3"/>
<rect x="769" y="773" width="1" height="3"/>
<rect x="833" y="773" width="1" height="3"/>
<rect x="897" y="773" width="1" height="3"/>
<rect x="961" y="773" width="1" height="3"/>
<rect x="1025" y="773" width="1" height="3"/>
<rect x="1089" y="773" width="1" height="3"/>
<rect x="1153" y="773" width="1" height="3"/>
<rect x="1217" y="773" width="1" height="3"/>
<rect x="1281" y="773" width="1" height="3"/>
<rect x="1345" y="773" width="1" height="3"/>
<rect x="1409" y="773" width="1" height="3"/>
<rect x="1473" y="773" width="1" height="3"/>
<rect x="1537" y="773" width="1" height="3"/>
<rect x="1601" y="773" width="1" height="3"/>
</g>
<text x="0.6" y="785" textLength="54" lengthAdjust="spacingAndGlyphs" style="font-size:10.1px;fill:#000">14 May 2020</text>
<text x="64.6" y="785" textLength="57.3" lengthAdjust="spacingAndGlyphs" style="font-size:10.1px;fill:#000">17 May 23:00</text>
<text x="128.6" y="785" textLength="57.3" lengthAdjust="spacingAndGlyphs" style="font-size:10.1px;fill:#000">19 May 04:00</text>
<text x="192.6" y="785" textLength="57.3" lengthAdjust="spacingAndGlyphs" style="font-size:10.1px;fill:#000">20 May 12:00</text>
<text x="256.6" y="785" textLength="57.3" lengthAdjust="spacingAndGlyphs" style="font-size:10.1px;fill:#000">21 May 20:00</text>
<text x="320.6" y="785" textLength="57.3" lengthAdjust="spacingAndGlyphs" style="font-size:10.1px;fill:#000">25 May 04:00</text>
<text x="384.6" y="785" textLength="57.3" lengthAdjust="spacingAndGlyphs" style="font-size:10.1px;fill:#000">26 May 12:00</text>
<text x="448.6" y="785" textLength="57.3" lengthAdjust="spacingAndGlyphs" style="font-size:10.1px;fill:#000">27 May 20:00</text>
<text x="512.6" y="785" textLength="57.3" lengthAdjust="spacingAndGlyphs" style="font-size:10.1px;fill:#000">29 May 04:00</text>
<text x="576.6" y="785" textLength="47.6" lengthAdjust="spacingAndGlyphs" style="font-size:10.1px;fill:#000">1 Jun 12:00</text>
<text x="640.6" y="785" textLength="47.6" lengthAdjust="spacingAndGlyphs" style="font-size:10.1px;fill:#000">2 Jun 20:00</text>
<text x="704.6" y="785" textLength="47.6" lengthAdjust="spacingAndGlyphs" style="font-size:10.1px;fill:#000">4 Jun 04:00</text>
<text x="768.6" y="785" textLength="47.6" lengthAdjust="spacingAndGlyphs" style="font-size:10.1px;fill:#000">5 Jun 12:00</text>
<text x="832.6" y="785" textLength="47.6" lengthAdjust="spacingAndGlyphs" style="font-size:10.1px;fill:#000">8 Jun 20:00</text>
<text x="896.6" y="785" textLength="52.7" lengthAdjust="spacingAndGlyphs" style="font-size:10.1px;fill:#000">10 Jun 04:00</text>
<text x="960.6" y="785" textLength="52.7" lengthAdjust="spacingAndGlyphs" style="font-size:10.1px;fill:#000">11 Jun 12:00</text>
<text x="1024.6" y="785" textLength="52.7" lengthAdjust="spacingAndGlyphs" style="font-size:10.1px;fill:#000">14 Jun 23:00</text>
<text x="1088.6" y="785" textLength="52.7" lengthAdjust="spacingAndGlyphs" style="font-size:10.1px;fill:#000">16 Jun 04:00</text>
<text x="1152.6" y="785" textLength="52.7" lengthAdjust="spacingAndGlyphs" style="font-size:10.1px;fill:#000">17 Jun 12:00</text>
<text x="1216.6" y="785" textLength="52.7" lengthAdjust="spacingAndGlyphs" style="font-size:10.1px;fill:#000">18 Jun 20:00</text>
<text x="1280.6" y="785" textLength="52.7" lengthAdjust="spacingAndGlyphs" style="font-size:10.1px;fill:#000">22 Jun 04:00</text>
<text x="1344.6" y="785" textLength="52.7" lengthAdjust="spacingAndGlyphs" style="font-size:10.1px;fill:#000">23 Jun 12:00</text>
<text x="1408.6" y="785" textLength="52.7" lengthAdjust="spacingAndGlyphs" style="font-size:10.1px;fill:#000">24 Jun 20:00</text>
<text x="1472.6" y="785" textLength="52.7" lengthAdjust="spacingAndGlyphs" style="font-size:10.1px;fill:#000">26 Jun 04:00</text>
<text x="1536.6" y="785" textLength="52.7" lengthAdjust="spacingAndGlyphs" style="font-size:10.1px;fill:#000">29 Jun 12:00</text>
<text x="1600.6" y="785" textLength="52.7" lengthAdjust="spacingAndGlyphs" style="font-size:10.1px;fill:#000">30 Jun 20:00</text>
</svg></body></html>
